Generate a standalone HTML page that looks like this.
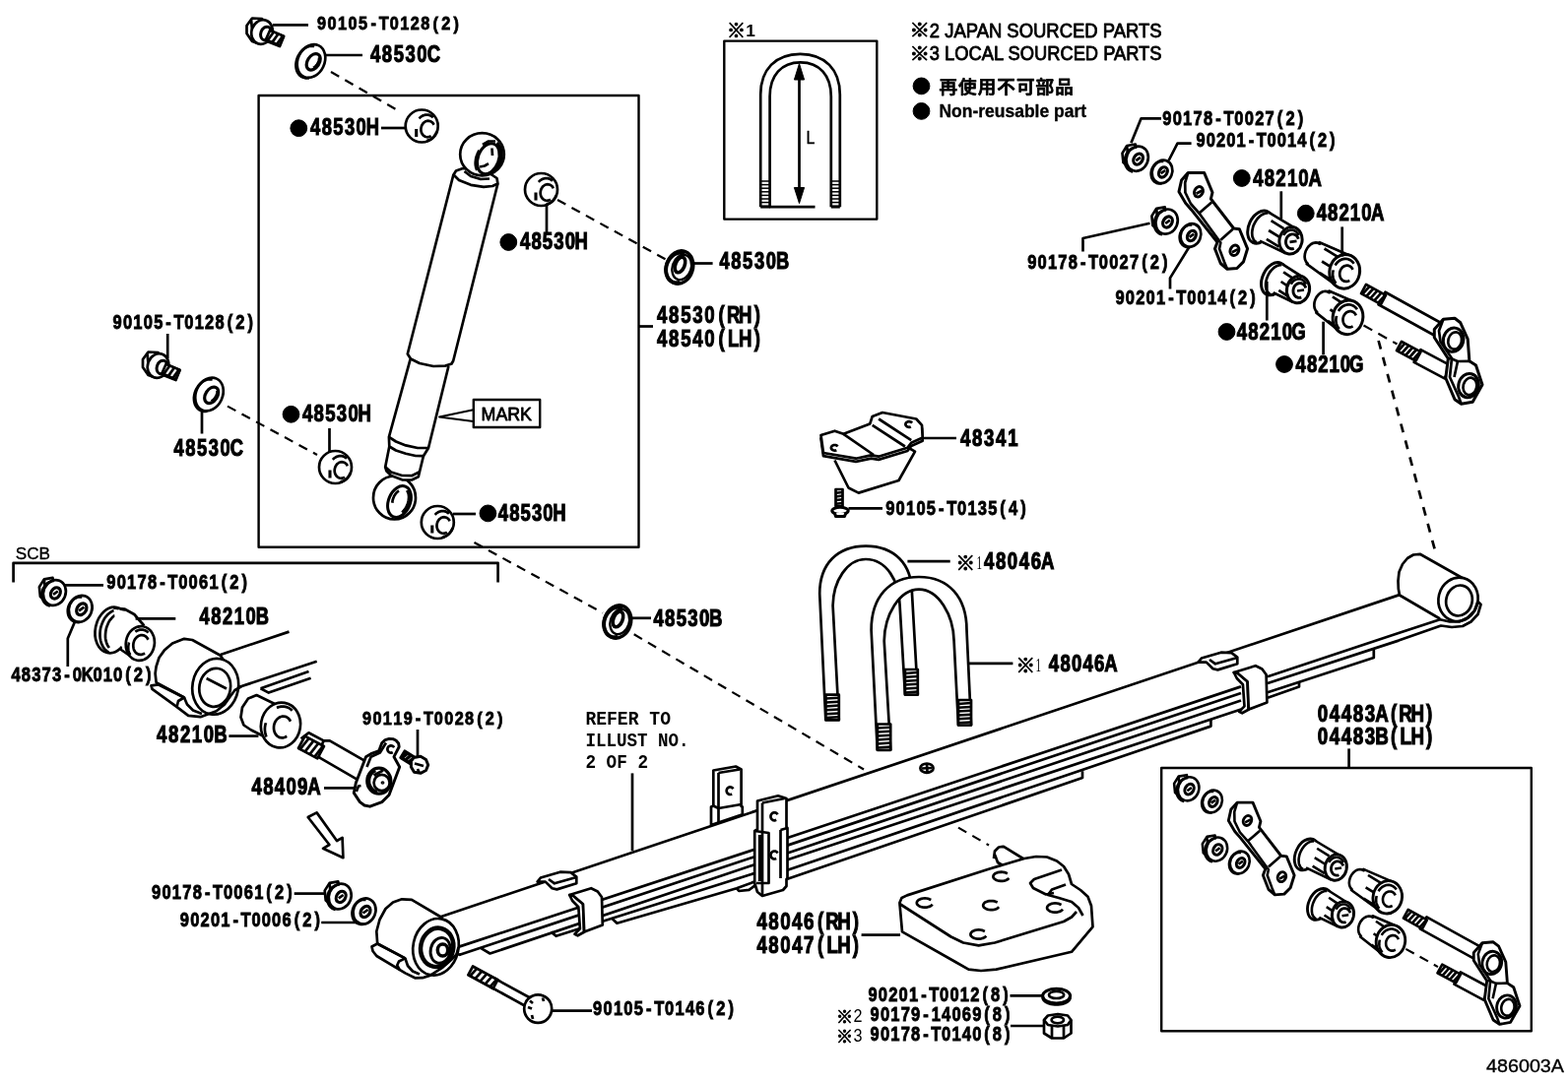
<!DOCTYPE html>
<html lang="en"><head><meta charset="utf-8"><title>486003A</title>
<style>
html,body{margin:0;padding:0;background:#fff}
body{width:1592px;height:1099px;overflow:hidden}
svg{display:block;will-change:transform}
svg g.d *{stroke:#000;stroke-linecap:butt;stroke-linejoin:round}
svg g.d text{stroke:none;fill:#000;white-space:pre}
svg g.d text.pn{font-family:"Liberation Sans",sans-serif;font-weight:bold;stroke:#000;stroke-width:1.1px;stroke-linejoin:miter}
svg g.d text.cd{font-family:"Liberation Sans",sans-serif;font-weight:bold;stroke:#000;stroke-width:0.85px;stroke-linejoin:miter}
svg g.d .sn{font-family:"Liberation Sans",sans-serif;font-weight:normal;stroke:none}
svg g.d .sr{font-family:"Liberation Serif",serif;font-weight:normal;stroke:none}
svg g.d text.ss{font-family:"Liberation Sans",sans-serif;stroke:#000;stroke-width:0.35px}
svg g.d .sb{font-family:"Liberation Sans",sans-serif;font-weight:bold;stroke:none}
.mo{font-family:"Liberation Mono",monospace;font-weight:bold}
svg g.d text.jp{font-family:"Liberation Sans","Noto Sans CJK JP",sans-serif;font-weight:500;stroke:#000;stroke-width:0.8px}
svg g.d text.km{font-family:"Liberation Sans","Noto Sans CJK JP",sans-serif;font-weight:bold;stroke:#000;stroke-width:0.9px}
svg g.d .sm{font-family:"Liberation Sans",sans-serif;font-weight:normal;stroke:#000;stroke-width:0.8px}
</style></head><body>
<svg width="1592" height="1099" viewBox="0 0 1592 1099" shape-rendering="geometricPrecision">
<rect x="0" y="0" width="1592" height="1099" fill="#fff" stroke="none"/>
<g class="d">
<polygon points="448.0,931.0 1420.0,604.4 1472.0,630.4 465.0,962.0" stroke-width="0.01" fill="#fff" />
<line x1="448.0" y1="931.0" x2="1421.0" y2="604.1" stroke-width="2.7" />
<polyline points="1462.0,628.5 1421.0,604.5 1419.8,598.0 1419.5,590.0 1420.5,581.0 1424.0,573.0 1429.0,567.0 1435.0,563.5 1441.7,562.8 1485.5,587.5" stroke-width="2.7" fill="#fff" />
<ellipse cx="1480.5" cy="608.8" rx="20.0" ry="22.3" stroke-width="2.7" fill="#fff" transform="rotate(14 1480.5 608.8)" />
<ellipse cx="1481.5" cy="610.0" rx="13.2" ry="15.6" stroke-width="2.7" fill="none" transform="rotate(14 1481.5 610.0)" />
<polyline points="1287.0,687.3 1420.0,643.0 1462.0,629.2 1472.0,631.5 1482.0,631.3 1490.0,627.5 1497.0,620.5 1500.5,611.0" stroke-width="2.7" fill="none" />
<polyline points="1287.0,694.0 1420.0,650.6 1463.0,635.5 1474.0,637.0 1485.0,636.0 1493.5,631.5 1500.5,624.0 1503.5,614.0 1500.5,611.0" stroke-width="2.7" fill="none" />
<line x1="799.5" y1="851.0" x2="1260.0" y2="697.4" stroke-width="2.7" />
<line x1="799.5" y1="858.6" x2="1260.0" y2="704.0" stroke-width="2.7" />
<line x1="799.5" y1="866.5" x2="1260.0" y2="711.5" stroke-width="2.7" />
<line x1="799.5" y1="873.3" x2="1260.0" y2="720.5" stroke-width="2.7" />
<polyline points="799.5,883.8 1229.4,737.6 1229.4,730.6" stroke-width="2.7" fill="none" />
<polyline points="799.5,892.8 1099.0,790.0 1099.0,783.3" stroke-width="2.7" fill="none" />
<polyline points="1287.0,703.3 1394.8,668.0 1394.8,660.0" stroke-width="2.7" fill="none" />
<polyline points="1287.0,708.7 1319.0,697.4 1319.0,693.0" stroke-width="2.7" fill="none" />
<line x1="465.2" y1="961.9" x2="766.8" y2="862.6" stroke-width="2.7" />
<line x1="466.0" y1="970.0" x2="766.8" y2="870.0" stroke-width="2.7" />
<polyline points="488.4,963.2 497.5,968.5 766.8,878.0" stroke-width="2.7" fill="none" />
<polyline points="559.6,946.6 564.6,950.8 766.8,886.7" stroke-width="2.7" fill="none" />
<polyline points="621.8,933.2 626.4,937.7 747.9,902.2 766.8,895.3" stroke-width="2.7" fill="none" />
<polyline points="747.9,902.2 750.2,905.0 760.5,903.9 768.5,898.0" stroke-width="2.7" fill="none" />
<polyline points="411.4,973.4 383.2,958.5 382.3,946.0 385.5,934.0 391.5,923.0 399.0,916.5 408.0,913.3 418.0,913.8 447.8,931.5 465.0,962.0 440.0,990.0" stroke-width="2.7" fill="#fff" />
<ellipse cx="442.5" cy="961.8" rx="23.0" ry="29.0" stroke-width="2.7" fill="#fff" transform="rotate(12 442.5 961.8)" />
<ellipse cx="443.7" cy="962.3" rx="16.5" ry="19.8" stroke-width="4.5" fill="none" transform="rotate(12 443.7 962.3)" />
<ellipse cx="447.2" cy="965.4" rx="10.0" ry="13.0" stroke-width="2.9000000000000004" fill="none" transform="rotate(12 447.2 965.4)" />
<ellipse cx="449.5" cy="965.0" rx="5.2" ry="6.0" stroke-width="3.5" fill="none" />
<polyline points="383.2,958.5 377.5,961.5 378.5,966.0 382.4,971.0 411.4,988.4 421.3,993.3 429.0,993.2 437.0,990.6 449.5,982.6 458.0,975.0 463.5,969.5 468.0,969.5" stroke-width="2.7" fill="none" />
<polyline points="383.2,958.5 411.4,973.4 405.0,976.5 403.2,980.5 405.6,985.0" stroke-width="2.7" fill="none" />
<polyline points="411.4,973.4 414.0,981.0 419.0,986.5 426.0,989.5" stroke-width="2.7" fill="none" />
<polyline points="465.5,962.0 463.5,969.5" stroke-width="2.7" fill="none" />
<polygon points="545.6,895.6 548.9,891.5 568.7,885.7 579.5,886.2 585.3,890.6 585.3,897.3 565.4,903.4 560.5,902.2 553.8,895.6" stroke-width="2.7" fill="#fff" />
<polyline points="557.0,893.0 563.0,897.3 585.3,891.0" stroke-width="2.7" fill="none" />
<polygon points="1216.6,672.6 1219.9,668.5 1239.7,662.7 1250.5,663.2 1256.3,667.6 1256.3,674.3 1236.4,680.4 1231.5,679.2 1224.8,672.6" stroke-width="2.7" fill="#fff" />
<polyline points="1228.0,670.0 1234.0,674.3 1256.3,668.0" stroke-width="2.7" fill="none" />
<polygon points="578.2,909.0 581.2,915.0 587.3,921.2 588.9,943.4 583.5,948.7 586.6,950.3 593.0,946.8 592.0,918.2 582.0,909.8" stroke-width="2.7" fill="#fff" />
<polygon points="578.2,909.0 600.2,902.2 606.8,905.5 611.0,911.3 611.8,939.5 593.2,946.6 592.0,918.2 582.0,909.8" stroke-width="2.7" fill="#fff" />
<polygon points="1252.8,683.0 1255.8,689.0 1261.9,695.2 1263.5,717.4 1258.1,722.7 1261.2,724.3 1267.6,720.8 1266.6,692.2 1256.6,683.8" stroke-width="2.7" fill="#fff" />
<polygon points="1252.8,683.0 1274.8,676.2 1281.4,679.5 1285.6,685.3 1286.4,713.5 1267.8,720.6 1266.6,692.2 1256.6,683.8" stroke-width="2.7" fill="#fff" />
<polygon points="724.3,782.5 747.0,778.5 752.6,781.5 752.6,819.0 753.8,819.5 753.8,827.3 722.0,838.0 722.0,819.5 724.3,818.5" stroke-width="2.7" fill="#fff" />
<polyline points="729.5,785.0 751.0,781.5" stroke-width="2.7" fill="none" />
<polyline points="729.5,785.0 729.5,837.0" stroke-width="2.7" fill="none" />
<polyline points="724.3,818.5 729.5,821.0 752.6,817.0" stroke-width="2.7" fill="none" />
<polyline points="743.1,806.5 742.5,806.8 741.8,807.0 741.1,807.0 740.4,806.9 739.7,806.6 739.1,806.2 738.6,805.7 738.2,805.1 737.9,804.4 737.7,803.7 737.7,803.0 737.8,802.2 738.1,801.5 738.4,800.9 738.9,800.3 739.5,799.9 740.1,799.6 740.8,799.4 741.5,799.4 742.2,799.5 742.9,799.8 743.5,800.2 744.0,800.7 744.4,801.3" stroke-width="2.7" fill="none" />
<polygon points="769.0,813.5 790.0,808.3 798.5,811.0 798.5,840.0 799.5,841.0 799.5,892.0 798.5,893.0 798.5,900.0 795.0,904.0 774.0,910.0 769.0,906.0 766.2,897.0 766.2,844.0 769.0,842.5" stroke-width="2.7" fill="#fff" />
<polyline points="774.0,815.5 796.5,811.0" stroke-width="2.7" fill="none" />
<polyline points="774.0,815.5 774.0,909.5" stroke-width="2.7" fill="none" />
<polyline points="766.2,844.0 780.5,846.0 780.5,897.0 768.0,897.0" stroke-width="2.7" fill="none" />
<polyline points="771.5,848.0 771.5,895.0" stroke-width="3.3000000000000003" fill="none" />
<polyline points="792.5,843.0 792.5,892.0" stroke-width="2.7" fill="none" />
<polyline points="792.5,843.0 799.5,841.0" stroke-width="2.7" fill="none" />
<polyline points="788.2,832.8 787.5,833.1 786.8,833.3 786.1,833.3 785.3,833.2 784.6,832.9 784.0,832.5 783.4,831.9 783.0,831.3 782.7,830.6 782.5,829.8 782.5,829.0 782.6,828.3 782.9,827.5 783.3,826.9 783.8,826.3 784.4,825.8 785.1,825.5 785.8,825.3 786.5,825.3 787.3,825.4 788.0,825.7 788.6,826.1 789.2,826.7 789.6,827.3" stroke-width="2.7" fill="none" />
<polyline points="788.2,872.0 787.5,872.3 786.8,872.5 786.1,872.5 785.3,872.4 784.6,872.1 784.0,871.7 783.4,871.1 783.0,870.5 782.7,869.8 782.5,869.0 782.5,868.2 782.6,867.5 782.9,866.7 783.3,866.1 783.8,865.5 784.4,865.0 785.1,864.7 785.8,864.5 786.5,864.5 787.3,864.6 788.0,864.9 788.6,865.3 789.2,865.9 789.6,866.5" stroke-width="2.7" fill="none" />
<ellipse cx="941.0" cy="780.2" rx="6.6" ry="4.6" stroke-width="2.7" fill="none" />
<line x1="936.0" y1="780.5" x2="946.0" y2="780.0" stroke-width="2.7" />
<line x1="941.0" y1="776.0" x2="941.5" y2="784.5" stroke-width="2.7" />
<path d="M772.2,210.2 L772.2,96.0 C772.2,70.5 787.5,54.8 812.5,54.8 C837.5,54.8 852.8,70.5 852.8,96.0 L852.8,210.2" stroke-width="2.7" fill="none" />
<path d="M781.6,210.2 L781.6,98.0 C781.6,76.5 793.4,63.4 812.7,63.4 C832.0,63.4 843.8,76.5 843.8,98.0 L843.8,210.2" stroke-width="2.7" fill="none" />
<line x1="772.2" y1="184.0" x2="781.6" y2="184.0" stroke-width="1.5" />
<line x1="772.2" y1="187.6" x2="781.6" y2="187.6" stroke-width="1.5" />
<line x1="772.2" y1="191.2" x2="781.6" y2="191.2" stroke-width="1.5" />
<line x1="772.2" y1="194.8" x2="781.6" y2="194.8" stroke-width="1.5" />
<line x1="772.2" y1="198.4" x2="781.6" y2="198.4" stroke-width="1.5" />
<line x1="772.2" y1="202.0" x2="781.6" y2="202.0" stroke-width="1.5" />
<line x1="772.2" y1="205.6" x2="781.6" y2="205.6" stroke-width="1.5" />
<line x1="772.2" y1="209.2" x2="781.6" y2="209.2" stroke-width="1.5" />
<line x1="772.2" y1="210.2" x2="781.6" y2="210.2" stroke-width="2.7" />
<line x1="843.8" y1="184.0" x2="852.8" y2="184.0" stroke-width="1.5" />
<line x1="843.8" y1="187.6" x2="852.8" y2="187.6" stroke-width="1.5" />
<line x1="843.8" y1="191.2" x2="852.8" y2="191.2" stroke-width="1.5" />
<line x1="843.8" y1="194.8" x2="852.8" y2="194.8" stroke-width="1.5" />
<line x1="843.8" y1="198.4" x2="852.8" y2="198.4" stroke-width="1.5" />
<line x1="843.8" y1="202.0" x2="852.8" y2="202.0" stroke-width="1.5" />
<line x1="843.8" y1="205.6" x2="852.8" y2="205.6" stroke-width="1.5" />
<line x1="843.8" y1="209.2" x2="852.8" y2="209.2" stroke-width="1.5" />
<line x1="843.8" y1="210.2" x2="852.8" y2="210.2" stroke-width="2.7" />
<line x1="781.0" y1="210.2" x2="827.5" y2="210.2" stroke-width="2.7" />
<line x1="811.5" y1="70.0" x2="811.5" y2="200.0" stroke-width="2.7" />
<polygon points="811.5,64.6 816.6,81.0 806.4,81.0" stroke-width="1" fill="#000" />
<polygon points="811.5,206.6 816.6,190.5 806.4,190.5" stroke-width="1" fill="#000" />
<path d="M838.3,731.0 L832.2,603.0 C832.2,573.0 850.0,554.6 879.1,554.6 C908.2,554.6 926.0,573.0 926.0,603.0 L931.8,705.0 L918.9,705 L913.6,615 C913,590 900,568 879,568 C860,568 846,590 845.6,615 L851.8,731 Z" fill="#fff" stroke-width="2.7"/>
<rect x="838.4" y="705.7" width="13.4" height="25.7" fill="#fff" stroke-width="2.7"/>
<line x1="838.4" y1="709.6" x2="851.8" y2="708.8" stroke-width="2.5" />
<line x1="838.4" y1="713.5" x2="851.8" y2="712.7" stroke-width="2.5" />
<line x1="838.4" y1="717.4" x2="851.8" y2="716.6" stroke-width="2.5" />
<line x1="838.4" y1="721.3" x2="851.8" y2="720.5" stroke-width="2.5" />
<line x1="838.4" y1="725.2" x2="851.8" y2="724.4" stroke-width="2.5" />
<line x1="838.4" y1="729.1" x2="851.8" y2="728.3" stroke-width="2.5" />
<rect x="918.9" y="680.0" width="12.9" height="25.7" fill="#fff" stroke-width="2.7"/>
<line x1="918.9" y1="683.9" x2="931.8" y2="683.1" stroke-width="2.5" />
<line x1="918.9" y1="687.8" x2="931.8" y2="687.0" stroke-width="2.5" />
<line x1="918.9" y1="691.7" x2="931.8" y2="690.9" stroke-width="2.5" />
<line x1="918.9" y1="695.6" x2="931.8" y2="694.8" stroke-width="2.5" />
<line x1="918.9" y1="699.5" x2="931.8" y2="698.7" stroke-width="2.5" />
<line x1="918.9" y1="703.4" x2="931.8" y2="702.6" stroke-width="2.5" />
<path d="M890.8,761.5 L884.6,640.0 C884.6,606.5 903.0,586.0 933.0,586.0 C963.1,586.0 981.5,606.5 981.5,640.0 L986.0,736.3 L973,736.3 L968.6,651 C968,625 953,598.7 933,598.7 C913,598.7 898,625 897.7,651 L904.2,761.5 Z" fill="#fff" stroke-width="2.7"/>
<rect x="890.8" y="735.5" width="13.4" height="26.3" fill="#fff" stroke-width="2.7"/>
<line x1="890.8" y1="739.5" x2="904.2" y2="738.7" stroke-width="2.5" />
<line x1="890.8" y1="743.5" x2="904.2" y2="742.7" stroke-width="2.5" />
<line x1="890.8" y1="747.5" x2="904.2" y2="746.7" stroke-width="2.5" />
<line x1="890.8" y1="751.4" x2="904.2" y2="750.6" stroke-width="2.5" />
<line x1="890.8" y1="755.4" x2="904.2" y2="754.6" stroke-width="2.5" />
<line x1="890.8" y1="759.4" x2="904.2" y2="758.6" stroke-width="2.5" />
<rect x="973.0" y="711.0" width="13.0" height="25.5" fill="#fff" stroke-width="2.7"/>
<line x1="973.0" y1="714.9" x2="986.0" y2="714.1" stroke-width="2.5" />
<line x1="973.0" y1="718.7" x2="986.0" y2="717.9" stroke-width="2.5" />
<line x1="973.0" y1="722.6" x2="986.0" y2="721.8" stroke-width="2.5" />
<line x1="973.0" y1="726.5" x2="986.0" y2="725.7" stroke-width="2.5" />
<line x1="973.0" y1="730.3" x2="986.0" y2="729.5" stroke-width="2.5" />
<line x1="973.0" y1="734.2" x2="986.0" y2="733.4" stroke-width="2.5" />
<polyline points="847.5,467.5 861.5,495.5 871.7,500.6 912.5,488.0 929.0,458.6 921.0,454.0" stroke-width="2.7" fill="#fff" />
<polygon points="833.5,445.2 847.5,440.9 856.4,444.0 883.2,433.8 885.7,426.2 896.0,422.2 930.3,428.7 936.0,435.0 936.7,447.8 925.2,452.9 921.4,458.0 892.0,466.9 884.5,465.6 869.0,468.9 836.0,463.2" stroke-width="2.7" fill="#fff" />
<polygon points="833.5,442.0 847.5,437.7 856.4,440.8 883.2,430.6 885.7,423.0 896.0,419.0 930.3,425.5 936.0,431.8 936.7,444.6 925.2,449.7 921.4,454.8 892.0,463.7 884.5,462.4 869.0,465.7 836.0,460.0" stroke-width="2.7" fill="#fff" />
<polyline points="856.4,440.8 887.0,462.0" stroke-width="2.7" fill="none" />
<polyline points="885.7,431.8 918.9,453.5" stroke-width="2.7" fill="none" />
<polyline points="892.1,425.5 925.2,447.1" stroke-width="2.7" fill="none" />
<polyline points="849.3,457.2 848.7,457.5 848.0,457.6 847.3,457.6 846.6,457.5 845.9,457.3 845.3,457.0 844.8,456.6 844.4,456.2 844.1,455.7 843.9,455.2 843.9,454.6 844.0,454.1 844.3,453.6 844.6,453.1 845.1,452.7 845.7,452.4 846.3,452.1 847.0,452.0 847.7,452.0 848.4,452.1 849.1,452.3 849.7,452.6 850.2,453.0 850.6,453.4" stroke-width="2.7" fill="none" />
<polyline points="924.8,433.4 924.2,433.7 923.5,433.8 922.8,433.8 922.1,433.7 921.4,433.5 920.8,433.2 920.3,432.8 919.9,432.4 919.6,431.9 919.4,431.4 919.4,430.8 919.5,430.3 919.8,429.8 920.1,429.3 920.6,428.9 921.2,428.6 921.8,428.3 922.5,428.2 923.2,428.2 923.9,428.3 924.6,428.5 925.2,428.8 925.7,429.2 926.1,429.6" stroke-width="2.7" fill="none" />
<rect x="848.5" y="497.0" width="7.0" height="17.0" fill="#fff" stroke-width="2.7"/>
<line x1="848.5" y1="500.7" x2="855.5" y2="499.9" stroke-width="2.5" />
<line x1="848.5" y1="504.4" x2="855.5" y2="503.6" stroke-width="2.5" />
<line x1="848.5" y1="508.1" x2="855.5" y2="507.3" stroke-width="2.5" />
<line x1="848.5" y1="511.8" x2="855.5" y2="511.0" stroke-width="2.5" />
<ellipse cx="853.0" cy="518.8" rx="8.2" ry="3.6" stroke-width="3.0" fill="#fff" />
<polyline points="847.5,521.0 848.5,524.5 857.5,524.5 858.8,521.0" stroke-width="3.0" fill="#fff" />
<polyline points="1009.0,872.0 1010.0,864.5 1014.0,860.5 1019.0,859.8 1039.5,872.5 1030.0,880.0" stroke-width="2.7" fill="#fff" />
<polyline points="1010.0,868.0 1013.0,876.0 1020.0,880.0" stroke-width="2.7" fill="none" />
<polygon points="913.4,917.0 915.5,912.0 921.0,909.4 1003.8,882.7 1040.0,872.0 1052.0,870.0 1063.0,870.5 1073.0,874.5 1080.0,880.0 1085.0,888.0 1088.0,898.0 1097.0,904.0 1104.5,910.7 1108.0,920.0 1109.5,941.3 1088.0,966.8 1011.5,984.6 996.0,986.0 983.4,984.6 970.0,977.0 916.0,946.4" stroke-width="2.7" fill="#fff" />
<polyline points="913.4,918.0 965.6,951.5 978.0,957.5 993.6,960.4 1010.0,957.5 1080.0,936.0 1088.0,931.5 1093.0,926.0" stroke-width="2.7" fill="none" />
<polyline points="1078.0,883.5 1050.0,893.0 1046.0,897.0 1049.0,902.0 1062.0,908.5 1070.0,907.0" stroke-width="2.7" fill="none" />
<polyline points="1082.0,898.5 1068.0,903.5 1064.0,909.0 1075.0,912.0 1088.0,916.0 1095.0,922.0 1099.5,930.0" stroke-width="2.7" fill="none" />
<polyline points="946.7,918.6 945.9,919.5 944.8,920.3 943.4,920.9 941.8,921.3 940.1,921.6 938.3,921.6 936.5,921.4 934.9,921.0 933.5,920.4 932.3,919.6 931.4,918.8 930.9,917.8 930.8,916.8 931.1,915.8 931.7,914.9 932.7,914.0 934.0,913.4 935.5,912.8 937.2,912.5 939.0,912.4 940.8,912.5 942.5,912.8 944.0,913.4 945.3,914.0" stroke-width="2.7" fill="none" />
<polyline points="1014.1,921.2 1013.3,922.1 1012.2,922.9 1010.8,923.5 1009.2,923.9 1007.5,924.2 1005.7,924.2 1003.9,924.0 1002.3,923.6 1000.9,923.0 999.7,922.2 998.8,921.4 998.3,920.4 998.2,919.4 998.5,918.4 999.1,917.5 1000.1,916.6 1001.4,916.0 1002.9,915.4 1004.6,915.1 1006.4,915.0 1008.2,915.1 1009.9,915.4 1011.4,916.0 1012.7,916.6" stroke-width="2.7" fill="none" />
<polyline points="1024.3,891.9 1023.5,892.8 1022.4,893.6 1021.0,894.2 1019.4,894.6 1017.7,894.9 1015.9,894.9 1014.1,894.7 1012.5,894.3 1011.1,893.7 1009.9,892.9 1009.0,892.1 1008.5,891.1 1008.4,890.1 1008.7,889.1 1009.3,888.2 1010.3,887.3 1011.6,886.7 1013.1,886.1 1014.8,885.8 1016.6,885.7 1018.4,885.8 1020.1,886.1 1021.6,886.7 1022.9,887.3" stroke-width="2.7" fill="none" />
<polyline points="1079.0,923.6 1078.2,924.5 1077.1,925.3 1075.7,925.9 1074.1,926.3 1072.4,926.6 1070.6,926.6 1068.8,926.4 1067.2,926.0 1065.8,925.4 1064.6,924.6 1063.7,923.8 1063.2,922.8 1063.1,921.8 1063.4,920.8 1064.0,919.9 1065.0,919.0 1066.3,918.4 1067.8,917.8 1069.5,917.5 1071.3,917.4 1073.1,917.5 1074.8,917.8 1076.3,918.4 1077.6,919.0" stroke-width="2.7" fill="none" />
<polyline points="1001.3,950.6 1000.5,951.5 999.4,952.3 998.0,952.9 996.4,953.3 994.7,953.6 992.9,953.6 991.1,953.4 989.5,953.0 988.1,952.4 986.9,951.6 986.0,950.8 985.5,949.8 985.4,948.8 985.7,947.8 986.3,946.9 987.3,946.0 988.6,945.4 990.1,944.8 991.8,944.5 993.6,944.4 995.4,944.5 997.1,944.8 998.6,945.4 999.9,946.0" stroke-width="2.7" fill="none" />
<ellipse cx="1072.6" cy="1011.6" rx="14.0" ry="7.4" stroke-width="3.1" fill="#fff" />
<polyline points="1086.6,1013.2 1086.5,1014.1 1086.1,1015.1 1085.5,1016.0 1084.7,1016.8 1083.7,1017.6 1082.5,1018.3 1081.1,1018.9 1079.6,1019.4 1078.0,1019.9 1076.2,1020.2 1074.4,1020.3 1072.6,1020.4 1070.8,1020.3 1069.0,1020.2 1067.2,1019.9 1065.6,1019.4 1064.1,1018.9 1062.7,1018.3 1061.5,1017.6 1060.5,1016.8 1059.7,1016.0 1059.1,1015.1 1058.7,1014.1 1058.6,1013.2" stroke-width="2.7" fill="none" />
<ellipse cx="1072.6" cy="1010.4" rx="7.6" ry="3.6" stroke-width="2.7" fill="none" />
<polyline points="1060.0,1036.0 1060.0,1049.5 1068.0,1054.5 1080.0,1054.5 1087.5,1049.5 1087.5,1036.0" stroke-width="2.7" fill="#fff" />
<polygon points="1060.0,1036.0 1064.0,1031.5 1074.0,1030.0 1084.0,1031.5 1087.5,1036.0 1084.0,1041.0 1074.0,1042.5 1064.0,1041.0" stroke-width="2.7" fill="#fff" />
<ellipse cx="1073.8" cy="1036.0" rx="6.2" ry="3.4" stroke-width="2.7" fill="none" />
<line x1="1068.0" y1="1041.5" x2="1068.0" y2="1054.5" stroke-width="2.7" />
<line x1="1080.0" y1="1041.5" x2="1080.0" y2="1054.5" stroke-width="2.7" />
<polygon points="1139.5,155.6 1144.2,148.0 1152.8,146.5 1156.6,169.8 1148.0,171.7 1140.5,165.1" stroke-width="2.7" fill="#fff" />
<line x1="1144.2" y1="148.0" x2="1146.1" y2="168.9" stroke-width="2.7" />
<ellipse cx="1154.7" cy="161.2" rx="10.9" ry="12.8" stroke-width="2.7" fill="#fff" transform="rotate(22 1154.7 161.2)" />
<polyline points="1150.2,174.4 1148.9,174.1 1147.7,173.6 1146.5,172.9 1145.4,172.0 1144.5,171.0 1143.7,169.8 1143.0,168.6 1142.5,167.2 1142.2,165.7 1142.0,164.2 1142.0,162.7 1142.2,161.1 1142.5,159.6 1143.0,158.1 1143.6,156.6 1144.4,155.3 1145.4,154.0 1146.4,152.9 1147.6,151.9 1148.8,151.0 1150.1,150.4 1151.5,149.9 1152.8,149.6 1154.2,149.4" stroke-width="2.7" fill="none" />
<ellipse cx="1155.6" cy="161.6" rx="4.4" ry="5.9" stroke-width="3.2" fill="none" transform="rotate(32 1155.6 161.6)" />
<line x1="1153.3" y1="163.2" x2="1158.0" y2="159.8" stroke-width="2.7" />
<ellipse cx="1180.0" cy="174.4" rx="10.1" ry="12.0" stroke-width="2.7" fill="#fff" transform="rotate(22 1180.0 174.4)" />
<polyline points="1179.5,186.3 1178.0,186.5 1176.6,186.4 1175.2,186.2 1173.9,185.7 1172.6,184.9 1171.5,184.0 1170.6,182.9 1169.8,181.6 1169.2,180.2 1168.9,178.6 1168.7,177.0 1168.7,175.4 1169.0,173.7 1169.4,172.1 1170.1,170.6 1170.9,169.1 1171.9,167.8 1173.1,166.6 1174.3,165.6 1175.7,164.8 1177.1,164.2 1178.5,163.9 1180.0,163.8 1181.4,163.9" stroke-width="2.7" fill="none" />
<ellipse cx="1180.9" cy="174.9" rx="4.0" ry="5.5" stroke-width="3.2" fill="none" transform="rotate(32 1180.9 174.9)" />
<line x1="1178.6" y1="176.2" x2="1183.2" y2="173.0" stroke-width="2.7" />
<polygon points="1169.4,219.4 1174.2,211.8 1182.7,210.4 1186.5,233.7 1178.0,235.6 1170.4,228.9" stroke-width="2.7" fill="#fff" />
<line x1="1174.2" y1="211.8" x2="1176.0" y2="232.8" stroke-width="2.7" />
<ellipse cx="1184.6" cy="225.1" rx="10.9" ry="12.8" stroke-width="2.7" fill="#fff" transform="rotate(22 1184.6 225.1)" />
<polyline points="1180.1,238.3 1178.8,238.0 1177.6,237.5 1176.4,236.8 1175.3,235.9 1174.4,234.9 1173.6,233.7 1172.9,232.5 1172.4,231.1 1172.1,229.6 1171.9,228.1 1171.9,226.6 1172.1,225.0 1172.4,223.5 1172.9,222.0 1173.5,220.5 1174.3,219.2 1175.3,217.9 1176.3,216.8 1177.5,215.8 1178.7,214.9 1180.0,214.3 1181.4,213.8 1182.7,213.5 1184.1,213.3" stroke-width="2.7" fill="none" />
<ellipse cx="1185.5" cy="225.5" rx="4.4" ry="5.9" stroke-width="3.2" fill="none" transform="rotate(32 1185.5 225.5)" />
<line x1="1183.2" y1="227.0" x2="1187.9" y2="223.7" stroke-width="2.7" />
<ellipse cx="1209.0" cy="239.0" rx="10.1" ry="12.0" stroke-width="2.7" fill="#fff" transform="rotate(22 1209.0 239.0)" />
<polyline points="1208.5,250.9 1207.0,251.1 1205.6,251.0 1204.2,250.8 1202.9,250.3 1201.6,249.5 1200.5,248.6 1199.6,247.5 1198.8,246.2 1198.2,244.8 1197.9,243.2 1197.7,241.6 1197.7,240.0 1198.0,238.3 1198.4,236.7 1199.1,235.2 1199.9,233.7 1200.9,232.4 1202.1,231.2 1203.3,230.2 1204.7,229.4 1206.1,228.8 1207.5,228.5 1209.0,228.4 1210.4,228.5" stroke-width="2.7" fill="none" />
<ellipse cx="1209.9" cy="239.5" rx="4.0" ry="5.5" stroke-width="3.2" fill="none" transform="rotate(32 1209.9 239.5)" />
<line x1="1207.6" y1="240.8" x2="1212.2" y2="237.6" stroke-width="2.7" />
<polygon points="1197.0,194.7 1199.6,183.0 1206.2,175.6 1222.7,175.6 1231.0,195.5 1229.4,202.0 1252.6,232.0 1258.4,232.7 1266.6,252.6 1262.5,265.9 1255.9,272.5 1246.0,273.3 1239.3,267.5 1233.5,252.6 1236.0,246.0 1209.5,212.9 1203.7,206.2" stroke-width="3.0" fill="#fff" />
<polyline points="1206.2,175.6 1203.2,185.5 1203.4,195.5 1209.0,207.0 1217.8,217.0 1239.3,246.5 1238.0,252.6 1243.0,266.0 1246.0,273.3" stroke-width="2.7" fill="none" />
<line x1="1217.8" y1="216.2" x2="1230.2" y2="205.4" stroke-width="2.7" />
<line x1="1239.3" y1="243.8" x2="1251.7" y2="232.7" stroke-width="2.7" />
<ellipse cx="1217.0" cy="194.7" rx="4.2" ry="5.4" stroke-width="3.0" fill="none" transform="rotate(25 1217.0 194.7)" />
<line x1="1214.5" y1="196.7" x2="1220.5" y2="193.5" stroke-width="2.7" />
<ellipse cx="1253.4" cy="254.3" rx="4.2" ry="5.4" stroke-width="3.0" fill="none" transform="rotate(25 1253.4 254.3)" />
<line x1="1250.9" y1="256.3" x2="1256.9" y2="253.1" stroke-width="2.7" />
<ellipse cx="1279.5" cy="230.6" rx="11.5" ry="17.5" stroke-width="3.0" fill="#fff" transform="rotate(25 1279.5 230.6)" />
<polyline points="1275.8,246.1 1274.6,245.4 1273.5,244.4 1272.7,243.1 1272.0,241.7 1271.5,240.1 1271.3,238.3 1271.2,236.3 1271.4,234.3 1271.8,232.2 1272.3,230.1 1273.1,228.1 1274.1,226.1 1275.2,224.2 1276.4,222.5 1277.8,220.9 1279.3,219.5 1280.8,218.4 1282.4,217.5 1283.9,216.9 1285.5,216.5 1286.9,216.5 1288.3,216.7 1289.6,217.2 1290.7,218.0" stroke-width="2.7" fill="none" />
<polygon points="1288.0,215.6 1316.0,232.3 1305.5,257.3 1279.0,244.6" stroke-width="0.01" fill="#fff" />
<polyline points="1288.0,215.6 1316.0,232.3" stroke-width="2.7" fill="none" />
<polyline points="1279.0,244.6 1305.5,257.3" stroke-width="2.7" fill="none" />
<polyline points="1290.6,224.2 1303.4,232.1" stroke-width="2.7" fill="none" />
<polyline points="1288.1,234.0 1300.9,241.9" stroke-width="2.7" fill="none" />
<polyline points="1285.9,242.8 1298.6,250.7" stroke-width="2.7" fill="none" />
<ellipse cx="1310.5" cy="244.3" rx="11.5" ry="13.8" stroke-width="3.0" fill="#fff" transform="rotate(12 1310.5 244.3)" />
<polyline points="1313.8,252.3 1312.6,252.7 1311.3,252.7 1310.0,252.5 1308.8,252.0 1307.8,251.3 1306.9,250.3 1306.2,249.1 1305.7,247.8 1305.5,246.4 1305.5,244.9 1305.8,243.5 1306.3,242.1 1307.0,240.8 1307.9,239.8 1309.0,238.9 1310.2,238.3 1311.4,237.9 1312.7,237.9 1314.0,238.1 1315.2,238.6 1316.2,239.3 1317.1,240.3 1317.8,241.5 1318.3,242.8" stroke-width="2.9000000000000004" fill="none" />
<line x1="1309.5" y1="245.8" x2="1316.5" y2="244.8" stroke-width="2.7" />
<polyline points="1303.2,239.0 1303.6,238.2 1304.2,237.4 1304.7,236.7 1305.3,236.1 1306.0,235.5 1306.7,235.0 1307.4,234.6 1308.1,234.2 1308.9,234.0 1309.7,233.7 1310.4,233.6 1311.2,233.6 1312.0,233.6 1312.7,233.7 1313.5,233.9 1314.2,234.2 1314.9,234.6 1315.6,235.0 1316.2,235.5 1316.7,236.1 1317.3,236.7 1317.8,237.4 1318.2,238.1 1318.5,238.9" stroke-width="2.7" fill="none" />
<polyline points="1369.2,259.0 1339.8,246.2 1340.4,248.2 1339.5,247.3 1338.5,246.6 1337.3,246.0 1336.1,245.7 1334.9,245.6 1333.5,245.7 1332.2,246.1 1330.9,246.6 1329.6,247.4 1328.4,248.3 1327.3,249.4 1326.2,250.7 1325.3,252.0 1324.6,253.5 1324.0,255.0 1323.5,256.6 1323.3,258.2 1323.2,259.8 1323.3,261.3 1323.6,262.7 1324.1,264.1 1324.7,265.3 1325.5,266.3 1326.4,267.2" stroke-width="0.01" fill="none" />
<polyline points="1369.2,259.0 1339.8,246.2 1340.1,247.7 1338.1,246.7 1335.9,246.4 1333.5,246.8 1331.1,248.0 1328.9,249.9 1327.1,252.3 1325.7,255.0 1324.9,257.9 1324.6,260.8 1325.0,263.5 1326.0,265.8 1327.6,267.6 1326.8,268.2 1358.2,291.0" stroke-width="2.7" fill="#fff" />
<polyline points="1344.6,252.5 1357.8,260.6" stroke-width="2.7" fill="none" />
<polyline points="1342.1,265.5 1355.3,273.6" stroke-width="2.7" fill="none" />
<polyline points="1339.9,277.2 1353.1,285.3" stroke-width="2.7" fill="none" />
<ellipse cx="1365.2" cy="275.8" rx="15.3" ry="17.4" stroke-width="3.0" fill="#fff" transform="rotate(12 1365.2 275.8)" />
<polyline points="1370.3,284.9 1369.0,285.5 1367.6,285.9 1366.3,285.9 1364.9,285.7 1363.6,285.1 1362.5,284.2 1361.6,283.1 1360.9,281.8 1360.4,280.4 1360.2,278.8 1360.2,277.2 1360.5,275.7 1361.1,274.2 1361.9,272.8 1362.9,271.6 1364.1,270.7 1365.4,270.1 1366.8,269.7 1368.1,269.7 1369.5,269.9 1370.8,270.5 1371.9,271.4 1372.8,272.5 1373.5,273.8" stroke-width="2.7" fill="none" />
<polyline points="1355.6,269.5 1356.1,268.6 1356.7,267.8 1357.4,267.0 1358.1,266.2 1358.9,265.6 1359.7,264.9 1360.5,264.4 1361.4,264.0 1362.3,263.6 1363.2,263.3 1364.1,263.1 1365.0,262.9 1365.9,262.9 1366.8,262.9 1367.8,263.0 1368.7,263.3 1369.5,263.6 1370.4,263.9 1371.2,264.4 1372.0,264.9 1372.7,265.5 1373.4,266.2 1374.0,266.9 1374.6,267.7" stroke-width="2.7" fill="none" />
<polyline points="1356.5,287.7 1356.1,287.3 1355.8,286.8 1355.4,286.4 1355.1,285.9 1354.8,285.4 1354.6,284.9 1354.3,284.4 1354.1,283.9 1353.9,283.3 1353.7,282.8 1353.5,282.2 1353.4,281.6 1353.3,281.1 1353.2,280.5 1353.2,279.9 1353.1,279.3 1353.1,278.6 1353.1,278.0 1353.2,277.4 1353.2,276.8 1353.3,276.2 1353.4,275.6 1353.6,275.0 1353.7,274.4" stroke-width="2.7" fill="none" />
<ellipse cx="1293.3" cy="283.2" rx="11.5" ry="17.5" stroke-width="3.0" fill="#fff" transform="rotate(25 1293.3 283.2)" />
<polyline points="1289.6,298.8 1288.4,298.0 1287.4,297.0 1286.5,295.8 1285.8,294.4 1285.4,292.7 1285.1,290.9 1285.1,289.0 1285.2,287.0 1285.6,284.9 1286.2,282.8 1287.0,280.8 1287.9,278.8 1289.0,276.9 1290.3,275.1 1291.7,273.6 1293.1,272.2 1294.6,271.1 1296.2,270.2 1297.8,269.6 1299.3,269.2 1300.8,269.2 1302.2,269.4 1303.4,269.9 1304.6,270.7" stroke-width="2.7" fill="none" />
<polygon points="1301.8,268.2 1323.5,282.0 1313.0,307.0 1292.8,297.2" stroke-width="0.01" fill="#fff" />
<polyline points="1301.8,268.2 1323.5,282.0" stroke-width="2.7" fill="none" />
<polyline points="1292.8,297.2 1313.0,307.0" stroke-width="2.7" fill="none" />
<polyline points="1303.1,276.3 1312.6,282.6" stroke-width="2.7" fill="none" />
<polyline points="1300.6,286.0 1310.1,292.4" stroke-width="2.7" fill="none" />
<polyline points="1298.3,294.8 1307.9,301.2" stroke-width="2.7" fill="none" />
<ellipse cx="1318.0" cy="294.0" rx="11.5" ry="13.8" stroke-width="3.0" fill="#fff" transform="rotate(12 1318.0 294.0)" />
<polyline points="1321.3,302.0 1320.1,302.4 1318.8,302.4 1317.5,302.2 1316.3,301.7 1315.3,301.0 1314.4,300.0 1313.7,298.8 1313.2,297.5 1313.0,296.1 1313.0,294.6 1313.3,293.2 1313.8,291.8 1314.5,290.5 1315.4,289.5 1316.5,288.6 1317.7,288.0 1318.9,287.6 1320.2,287.6 1321.5,287.8 1322.7,288.3 1323.7,289.0 1324.6,290.0 1325.3,291.2 1325.8,292.5" stroke-width="2.9000000000000004" fill="none" />
<line x1="1317.0" y1="295.5" x2="1324.0" y2="294.5" stroke-width="2.7" />
<polyline points="1310.7,288.7 1311.1,287.9 1311.7,287.1 1312.2,286.4 1312.8,285.8 1313.5,285.2 1314.2,284.7 1314.9,284.3 1315.6,283.9 1316.4,283.7 1317.2,283.4 1317.9,283.3 1318.7,283.3 1319.5,283.3 1320.2,283.4 1321.0,283.6 1321.7,283.9 1322.4,284.3 1323.1,284.7 1323.7,285.2 1324.2,285.8 1324.8,286.4 1325.3,287.1 1325.7,287.8 1326.0,288.6" stroke-width="2.7" fill="none" />
<polyline points="1372.5,305.5 1349.4,295.6 1350.0,297.7 1349.1,296.8 1348.1,296.1 1347.0,295.5 1345.8,295.2 1344.5,295.1 1343.2,295.2 1341.9,295.6 1340.5,296.1 1339.3,296.9 1338.0,297.8 1336.9,298.9 1335.9,300.1 1335.0,301.5 1334.2,303.0 1333.6,304.5 1333.2,306.1 1332.9,307.7 1332.8,309.3 1332.9,310.8 1333.2,312.2 1333.7,313.6 1334.3,314.8 1335.1,315.8 1336.0,316.7" stroke-width="0.01" fill="none" />
<polyline points="1372.5,305.5 1349.4,295.6 1349.7,297.2 1347.7,296.2 1345.5,295.8 1343.1,296.3 1340.7,297.5 1338.6,299.3 1336.7,301.7 1335.3,304.5 1334.5,307.4 1334.3,310.3 1334.7,313.0 1335.7,315.3 1337.2,317.0 1336.4,317.6 1361.5,337.5" stroke-width="2.7" fill="#fff" />
<polyline points="1352.9,301.3 1362.9,307.9" stroke-width="2.7" fill="none" />
<polyline points="1350.4,314.3 1360.4,320.9" stroke-width="2.7" fill="none" />
<polyline points="1348.1,326.0 1358.1,332.6" stroke-width="2.7" fill="none" />
<ellipse cx="1368.5" cy="322.3" rx="15.3" ry="17.4" stroke-width="3.0" fill="#fff" transform="rotate(12 1368.5 322.3)" />
<polyline points="1373.6,331.4 1372.3,332.0 1370.9,332.4 1369.6,332.4 1368.2,332.2 1366.9,331.6 1365.8,330.7 1364.9,329.6 1364.2,328.3 1363.7,326.9 1363.5,325.3 1363.5,323.7 1363.8,322.2 1364.4,320.7 1365.2,319.3 1366.2,318.1 1367.4,317.2 1368.7,316.6 1370.1,316.2 1371.4,316.2 1372.8,316.4 1374.1,317.0 1375.2,317.9 1376.1,319.0 1376.8,320.3" stroke-width="2.7" fill="none" />
<polyline points="1358.9,316.0 1359.4,315.1 1360.0,314.3 1360.7,313.5 1361.4,312.7 1362.2,312.1 1363.0,311.4 1363.8,310.9 1364.7,310.5 1365.6,310.1 1366.5,309.8 1367.4,309.6 1368.3,309.4 1369.2,309.4 1370.1,309.4 1371.1,309.5 1372.0,309.8 1372.8,310.1 1373.7,310.4 1374.5,310.9 1375.3,311.4 1376.0,312.0 1376.7,312.7 1377.3,313.4 1377.9,314.2" stroke-width="2.7" fill="none" />
<polyline points="1359.8,334.2 1359.4,333.8 1359.1,333.3 1358.7,332.9 1358.4,332.4 1358.1,331.9 1357.9,331.4 1357.6,330.9 1357.4,330.4 1357.2,329.8 1357.0,329.3 1356.8,328.7 1356.7,328.1 1356.6,327.6 1356.5,327.0 1356.5,326.4 1356.4,325.8 1356.4,325.1 1356.4,324.5 1356.5,323.9 1356.5,323.3 1356.6,322.7 1356.7,322.1 1356.9,321.5 1357.0,320.9" stroke-width="2.7" fill="none" />
<line x1="1384.5" y1="330.5" x2="1418.5" y2="349.5" stroke-width="2.2" stroke-dasharray="10 7"/>
<polygon points="1399.5,309.3 1456.5,340.8 1463.5,328.2 1406.5,296.7" stroke-width="2.7" fill="#fff" />
<polygon points="1382.0,298.1 1402.0,309.1 1407.0,299.9 1387.0,288.9" stroke-width="2.7" fill="#fff" />
<line x1="1383.3" y1="298.8" x2="1390.5" y2="290.8" stroke-width="2.7" />
<line x1="1387.3" y1="301.0" x2="1394.5" y2="293.0" stroke-width="2.7" />
<line x1="1391.3" y1="303.2" x2="1398.5" y2="295.2" stroke-width="2.7" />
<line x1="1395.3" y1="305.4" x2="1402.5" y2="297.4" stroke-width="2.7" />
<line x1="1399.3" y1="307.6" x2="1406.5" y2="299.6" stroke-width="2.7" />
<polygon points="1435.6,367.9 1466.6,384.4 1473.4,371.6 1442.4,355.1" stroke-width="2.7" fill="#fff" />
<polygon points="1418.0,356.1 1437.5,366.6 1442.5,357.4 1423.0,346.9" stroke-width="2.7" fill="#fff" />
<line x1="1419.3" y1="356.8" x2="1426.4" y2="348.7" stroke-width="2.7" />
<line x1="1423.2" y1="358.9" x2="1430.3" y2="350.8" stroke-width="2.7" />
<line x1="1427.1" y1="361.0" x2="1434.2" y2="352.9" stroke-width="2.7" />
<line x1="1431.0" y1="363.1" x2="1438.1" y2="355.0" stroke-width="2.7" />
<line x1="1434.9" y1="365.2" x2="1442.0" y2="357.1" stroke-width="2.7" />
<polygon points="1456.3,334.5 1465.4,324.2 1477.0,323.2 1482.8,327.8 1490.2,344.4 1491.9,366.8 1498.5,371.0 1505.0,390.8 1495.2,408.2 1483.6,410.3 1477.0,405.7 1467.8,384.0 1470.3,364.3 1456.3,342.7" stroke-width="3.0" fill="#fff" />
<polyline points="1465.4,324.2 1461.0,336.0 1462.5,347.0 1474.0,364.0 1472.0,383.0 1481.0,403.0 1483.6,410.3" stroke-width="2.7" fill="none" />
<polyline points="1474.0,364.0 1470.3,364.3" stroke-width="2.7" fill="none" />
<polyline points="1474.0,364.5 1480.0,367.0 1491.9,366.8" stroke-width="2.7" fill="none" />
<polyline points="1480.0,367.0 1476.5,383.0" stroke-width="2.7" fill="none" />
<ellipse cx="1475.6" cy="345.2" rx="10.2" ry="12.2" stroke-width="3.0" fill="#fff" transform="rotate(14 1475.6 345.2)" />
<ellipse cx="1477.2" cy="346.0" rx="6.8" ry="8.8" stroke-width="2.7" fill="none" transform="rotate(14 1477.2 346.0)" />
<ellipse cx="1491.0" cy="391.6" rx="10.2" ry="12.2" stroke-width="3.0" fill="#fff" transform="rotate(14 1491.0 391.6)" />
<ellipse cx="1492.4" cy="392.4" rx="6.8" ry="8.8" stroke-width="2.7" fill="none" transform="rotate(14 1492.4 392.4)" />
<line x1="1399.6" y1="346.0" x2="1457.5" y2="561.0" stroke-width="2.7" stroke-dasharray="9 8.5"/>
<g transform="translate(1206.8 800.8) scale(0.96) translate(-1154.8 -160.7)">
<polygon points="1139.5,155.6 1144.2,148.0 1152.8,146.5 1156.6,169.8 1148.0,171.7 1140.5,165.1" stroke-width="2.7" fill="#fff" />
<line x1="1144.2" y1="148.0" x2="1146.1" y2="168.9" stroke-width="2.7" />
<ellipse cx="1154.7" cy="161.2" rx="10.9" ry="12.8" stroke-width="2.7" fill="#fff" transform="rotate(22 1154.7 161.2)" />
<polyline points="1150.2,174.4 1148.9,174.1 1147.7,173.6 1146.5,172.9 1145.4,172.0 1144.5,171.0 1143.7,169.8 1143.0,168.6 1142.5,167.2 1142.2,165.7 1142.0,164.2 1142.0,162.7 1142.2,161.1 1142.5,159.6 1143.0,158.1 1143.6,156.6 1144.4,155.3 1145.4,154.0 1146.4,152.9 1147.6,151.9 1148.8,151.0 1150.1,150.4 1151.5,149.9 1152.8,149.6 1154.2,149.4" stroke-width="2.7" fill="none" />
<ellipse cx="1155.6" cy="161.6" rx="4.4" ry="5.9" stroke-width="3.2" fill="none" transform="rotate(32 1155.6 161.6)" />
<line x1="1153.3" y1="163.2" x2="1158.0" y2="159.8" stroke-width="2.7" />
<ellipse cx="1180.0" cy="174.4" rx="10.1" ry="12.0" stroke-width="2.7" fill="#fff" transform="rotate(22 1180.0 174.4)" />
<polyline points="1179.5,186.3 1178.0,186.5 1176.6,186.4 1175.2,186.2 1173.9,185.7 1172.6,184.9 1171.5,184.0 1170.6,182.9 1169.8,181.6 1169.2,180.2 1168.9,178.6 1168.7,177.0 1168.7,175.4 1169.0,173.7 1169.4,172.1 1170.1,170.6 1170.9,169.1 1171.9,167.8 1173.1,166.6 1174.3,165.6 1175.7,164.8 1177.1,164.2 1178.5,163.9 1180.0,163.8 1181.4,163.9" stroke-width="2.7" fill="none" />
<ellipse cx="1180.9" cy="174.9" rx="4.0" ry="5.5" stroke-width="3.2" fill="none" transform="rotate(32 1180.9 174.9)" />
<line x1="1178.6" y1="176.2" x2="1183.2" y2="173.0" stroke-width="2.7" />
<polygon points="1169.4,219.4 1174.2,211.8 1182.7,210.4 1186.5,233.7 1178.0,235.6 1170.4,228.9" stroke-width="2.7" fill="#fff" />
<line x1="1174.2" y1="211.8" x2="1176.0" y2="232.8" stroke-width="2.7" />
<ellipse cx="1184.6" cy="225.1" rx="10.9" ry="12.8" stroke-width="2.7" fill="#fff" transform="rotate(22 1184.6 225.1)" />
<polyline points="1180.1,238.3 1178.8,238.0 1177.6,237.5 1176.4,236.8 1175.3,235.9 1174.4,234.9 1173.6,233.7 1172.9,232.5 1172.4,231.1 1172.1,229.6 1171.9,228.1 1171.9,226.6 1172.1,225.0 1172.4,223.5 1172.9,222.0 1173.5,220.5 1174.3,219.2 1175.3,217.9 1176.3,216.8 1177.5,215.8 1178.7,214.9 1180.0,214.3 1181.4,213.8 1182.7,213.5 1184.1,213.3" stroke-width="2.7" fill="none" />
<ellipse cx="1185.5" cy="225.5" rx="4.4" ry="5.9" stroke-width="3.2" fill="none" transform="rotate(32 1185.5 225.5)" />
<line x1="1183.2" y1="227.0" x2="1187.9" y2="223.7" stroke-width="2.7" />
<ellipse cx="1209.0" cy="239.0" rx="10.1" ry="12.0" stroke-width="2.7" fill="#fff" transform="rotate(22 1209.0 239.0)" />
<polyline points="1208.5,250.9 1207.0,251.1 1205.6,251.0 1204.2,250.8 1202.9,250.3 1201.6,249.5 1200.5,248.6 1199.6,247.5 1198.8,246.2 1198.2,244.8 1197.9,243.2 1197.7,241.6 1197.7,240.0 1198.0,238.3 1198.4,236.7 1199.1,235.2 1199.9,233.7 1200.9,232.4 1202.1,231.2 1203.3,230.2 1204.7,229.4 1206.1,228.8 1207.5,228.5 1209.0,228.4 1210.4,228.5" stroke-width="2.7" fill="none" />
<ellipse cx="1209.9" cy="239.5" rx="4.0" ry="5.5" stroke-width="3.2" fill="none" transform="rotate(32 1209.9 239.5)" />
<line x1="1207.6" y1="240.8" x2="1212.2" y2="237.6" stroke-width="2.7" />
<polygon points="1197.0,194.7 1199.6,183.0 1206.2,175.6 1222.7,175.6 1231.0,195.5 1229.4,202.0 1252.6,232.0 1258.4,232.7 1266.6,252.6 1262.5,265.9 1255.9,272.5 1246.0,273.3 1239.3,267.5 1233.5,252.6 1236.0,246.0 1209.5,212.9 1203.7,206.2" stroke-width="3.0" fill="#fff" />
<polyline points="1206.2,175.6 1203.2,185.5 1203.4,195.5 1209.0,207.0 1217.8,217.0 1239.3,246.5 1238.0,252.6 1243.0,266.0 1246.0,273.3" stroke-width="2.7" fill="none" />
<line x1="1217.8" y1="216.2" x2="1230.2" y2="205.4" stroke-width="2.7" />
<line x1="1239.3" y1="243.8" x2="1251.7" y2="232.7" stroke-width="2.7" />
<ellipse cx="1217.0" cy="194.7" rx="4.2" ry="5.4" stroke-width="3.0" fill="none" transform="rotate(25 1217.0 194.7)" />
<line x1="1214.5" y1="196.7" x2="1220.5" y2="193.5" stroke-width="2.7" />
<ellipse cx="1253.4" cy="254.3" rx="4.2" ry="5.4" stroke-width="3.0" fill="none" transform="rotate(25 1253.4 254.3)" />
<line x1="1250.9" y1="256.3" x2="1256.9" y2="253.1" stroke-width="2.7" />
<ellipse cx="1279.5" cy="230.6" rx="11.5" ry="17.5" stroke-width="3.0" fill="#fff" transform="rotate(25 1279.5 230.6)" />
<polyline points="1275.8,246.1 1274.6,245.4 1273.5,244.4 1272.7,243.1 1272.0,241.7 1271.5,240.1 1271.3,238.3 1271.2,236.3 1271.4,234.3 1271.8,232.2 1272.3,230.1 1273.1,228.1 1274.1,226.1 1275.2,224.2 1276.4,222.5 1277.8,220.9 1279.3,219.5 1280.8,218.4 1282.4,217.5 1283.9,216.9 1285.5,216.5 1286.9,216.5 1288.3,216.7 1289.6,217.2 1290.7,218.0" stroke-width="2.7" fill="none" />
<polygon points="1288.0,215.6 1316.0,232.3 1305.5,257.3 1279.0,244.6" stroke-width="0.01" fill="#fff" />
<polyline points="1288.0,215.6 1316.0,232.3" stroke-width="2.7" fill="none" />
<polyline points="1279.0,244.6 1305.5,257.3" stroke-width="2.7" fill="none" />
<polyline points="1290.6,224.2 1303.4,232.1" stroke-width="2.7" fill="none" />
<polyline points="1288.1,234.0 1300.9,241.9" stroke-width="2.7" fill="none" />
<polyline points="1285.9,242.8 1298.6,250.7" stroke-width="2.7" fill="none" />
<ellipse cx="1310.5" cy="244.3" rx="11.5" ry="13.8" stroke-width="3.0" fill="#fff" transform="rotate(12 1310.5 244.3)" />
<polyline points="1313.8,252.3 1312.6,252.7 1311.3,252.7 1310.0,252.5 1308.8,252.0 1307.8,251.3 1306.9,250.3 1306.2,249.1 1305.7,247.8 1305.5,246.4 1305.5,244.9 1305.8,243.5 1306.3,242.1 1307.0,240.8 1307.9,239.8 1309.0,238.9 1310.2,238.3 1311.4,237.9 1312.7,237.9 1314.0,238.1 1315.2,238.6 1316.2,239.3 1317.1,240.3 1317.8,241.5 1318.3,242.8" stroke-width="2.9000000000000004" fill="none" />
<line x1="1309.5" y1="245.8" x2="1316.5" y2="244.8" stroke-width="2.7" />
<polyline points="1303.2,239.0 1303.6,238.2 1304.2,237.4 1304.7,236.7 1305.3,236.1 1306.0,235.5 1306.7,235.0 1307.4,234.6 1308.1,234.2 1308.9,234.0 1309.7,233.7 1310.4,233.6 1311.2,233.6 1312.0,233.6 1312.7,233.7 1313.5,233.9 1314.2,234.2 1314.9,234.6 1315.6,235.0 1316.2,235.5 1316.7,236.1 1317.3,236.7 1317.8,237.4 1318.2,238.1 1318.5,238.9" stroke-width="2.7" fill="none" />
<polyline points="1369.2,259.0 1339.8,246.2 1340.4,248.2 1339.5,247.3 1338.5,246.6 1337.3,246.0 1336.1,245.7 1334.9,245.6 1333.5,245.7 1332.2,246.1 1330.9,246.6 1329.6,247.4 1328.4,248.3 1327.3,249.4 1326.2,250.7 1325.3,252.0 1324.6,253.5 1324.0,255.0 1323.5,256.6 1323.3,258.2 1323.2,259.8 1323.3,261.3 1323.6,262.7 1324.1,264.1 1324.7,265.3 1325.5,266.3 1326.4,267.2" stroke-width="0.01" fill="none" />
<polyline points="1369.2,259.0 1339.8,246.2 1340.1,247.7 1338.1,246.7 1335.9,246.4 1333.5,246.8 1331.1,248.0 1328.9,249.9 1327.1,252.3 1325.7,255.0 1324.9,257.9 1324.6,260.8 1325.0,263.5 1326.0,265.8 1327.6,267.6 1326.8,268.2 1358.2,291.0" stroke-width="2.7" fill="#fff" />
<polyline points="1344.6,252.5 1357.8,260.6" stroke-width="2.7" fill="none" />
<polyline points="1342.1,265.5 1355.3,273.6" stroke-width="2.7" fill="none" />
<polyline points="1339.9,277.2 1353.1,285.3" stroke-width="2.7" fill="none" />
<ellipse cx="1365.2" cy="275.8" rx="15.3" ry="17.4" stroke-width="3.0" fill="#fff" transform="rotate(12 1365.2 275.8)" />
<polyline points="1370.3,284.9 1369.0,285.5 1367.6,285.9 1366.3,285.9 1364.9,285.7 1363.6,285.1 1362.5,284.2 1361.6,283.1 1360.9,281.8 1360.4,280.4 1360.2,278.8 1360.2,277.2 1360.5,275.7 1361.1,274.2 1361.9,272.8 1362.9,271.6 1364.1,270.7 1365.4,270.1 1366.8,269.7 1368.1,269.7 1369.5,269.9 1370.8,270.5 1371.9,271.4 1372.8,272.5 1373.5,273.8" stroke-width="2.7" fill="none" />
<polyline points="1355.6,269.5 1356.1,268.6 1356.7,267.8 1357.4,267.0 1358.1,266.2 1358.9,265.6 1359.7,264.9 1360.5,264.4 1361.4,264.0 1362.3,263.6 1363.2,263.3 1364.1,263.1 1365.0,262.9 1365.9,262.9 1366.8,262.9 1367.8,263.0 1368.7,263.3 1369.5,263.6 1370.4,263.9 1371.2,264.4 1372.0,264.9 1372.7,265.5 1373.4,266.2 1374.0,266.9 1374.6,267.7" stroke-width="2.7" fill="none" />
<polyline points="1356.5,287.7 1356.1,287.3 1355.8,286.8 1355.4,286.4 1355.1,285.9 1354.8,285.4 1354.6,284.9 1354.3,284.4 1354.1,283.9 1353.9,283.3 1353.7,282.8 1353.5,282.2 1353.4,281.6 1353.3,281.1 1353.2,280.5 1353.2,279.9 1353.1,279.3 1353.1,278.6 1353.1,278.0 1353.2,277.4 1353.2,276.8 1353.3,276.2 1353.4,275.6 1353.6,275.0 1353.7,274.4" stroke-width="2.7" fill="none" />
<ellipse cx="1293.3" cy="283.2" rx="11.5" ry="17.5" stroke-width="3.0" fill="#fff" transform="rotate(25 1293.3 283.2)" />
<polyline points="1289.6,298.8 1288.4,298.0 1287.4,297.0 1286.5,295.8 1285.8,294.4 1285.4,292.7 1285.1,290.9 1285.1,289.0 1285.2,287.0 1285.6,284.9 1286.2,282.8 1287.0,280.8 1287.9,278.8 1289.0,276.9 1290.3,275.1 1291.7,273.6 1293.1,272.2 1294.6,271.1 1296.2,270.2 1297.8,269.6 1299.3,269.2 1300.8,269.2 1302.2,269.4 1303.4,269.9 1304.6,270.7" stroke-width="2.7" fill="none" />
<polygon points="1301.8,268.2 1323.5,282.0 1313.0,307.0 1292.8,297.2" stroke-width="0.01" fill="#fff" />
<polyline points="1301.8,268.2 1323.5,282.0" stroke-width="2.7" fill="none" />
<polyline points="1292.8,297.2 1313.0,307.0" stroke-width="2.7" fill="none" />
<polyline points="1303.1,276.3 1312.6,282.6" stroke-width="2.7" fill="none" />
<polyline points="1300.6,286.0 1310.1,292.4" stroke-width="2.7" fill="none" />
<polyline points="1298.3,294.8 1307.9,301.2" stroke-width="2.7" fill="none" />
<ellipse cx="1318.0" cy="294.0" rx="11.5" ry="13.8" stroke-width="3.0" fill="#fff" transform="rotate(12 1318.0 294.0)" />
<polyline points="1321.3,302.0 1320.1,302.4 1318.8,302.4 1317.5,302.2 1316.3,301.7 1315.3,301.0 1314.4,300.0 1313.7,298.8 1313.2,297.5 1313.0,296.1 1313.0,294.6 1313.3,293.2 1313.8,291.8 1314.5,290.5 1315.4,289.5 1316.5,288.6 1317.7,288.0 1318.9,287.6 1320.2,287.6 1321.5,287.8 1322.7,288.3 1323.7,289.0 1324.6,290.0 1325.3,291.2 1325.8,292.5" stroke-width="2.9000000000000004" fill="none" />
<line x1="1317.0" y1="295.5" x2="1324.0" y2="294.5" stroke-width="2.7" />
<polyline points="1310.7,288.7 1311.1,287.9 1311.7,287.1 1312.2,286.4 1312.8,285.8 1313.5,285.2 1314.2,284.7 1314.9,284.3 1315.6,283.9 1316.4,283.7 1317.2,283.4 1317.9,283.3 1318.7,283.3 1319.5,283.3 1320.2,283.4 1321.0,283.6 1321.7,283.9 1322.4,284.3 1323.1,284.7 1323.7,285.2 1324.2,285.8 1324.8,286.4 1325.3,287.1 1325.7,287.8 1326.0,288.6" stroke-width="2.7" fill="none" />
<polyline points="1372.5,305.5 1349.4,295.6 1350.0,297.7 1349.1,296.8 1348.1,296.1 1347.0,295.5 1345.8,295.2 1344.5,295.1 1343.2,295.2 1341.9,295.6 1340.5,296.1 1339.3,296.9 1338.0,297.8 1336.9,298.9 1335.9,300.1 1335.0,301.5 1334.2,303.0 1333.6,304.5 1333.2,306.1 1332.9,307.7 1332.8,309.3 1332.9,310.8 1333.2,312.2 1333.7,313.6 1334.3,314.8 1335.1,315.8 1336.0,316.7" stroke-width="0.01" fill="none" />
<polyline points="1372.5,305.5 1349.4,295.6 1349.7,297.2 1347.7,296.2 1345.5,295.8 1343.1,296.3 1340.7,297.5 1338.6,299.3 1336.7,301.7 1335.3,304.5 1334.5,307.4 1334.3,310.3 1334.7,313.0 1335.7,315.3 1337.2,317.0 1336.4,317.6 1361.5,337.5" stroke-width="2.7" fill="#fff" />
<polyline points="1352.9,301.3 1362.9,307.9" stroke-width="2.7" fill="none" />
<polyline points="1350.4,314.3 1360.4,320.9" stroke-width="2.7" fill="none" />
<polyline points="1348.1,326.0 1358.1,332.6" stroke-width="2.7" fill="none" />
<ellipse cx="1368.5" cy="322.3" rx="15.3" ry="17.4" stroke-width="3.0" fill="#fff" transform="rotate(12 1368.5 322.3)" />
<polyline points="1373.6,331.4 1372.3,332.0 1370.9,332.4 1369.6,332.4 1368.2,332.2 1366.9,331.6 1365.8,330.7 1364.9,329.6 1364.2,328.3 1363.7,326.9 1363.5,325.3 1363.5,323.7 1363.8,322.2 1364.4,320.7 1365.2,319.3 1366.2,318.1 1367.4,317.2 1368.7,316.6 1370.1,316.2 1371.4,316.2 1372.8,316.4 1374.1,317.0 1375.2,317.9 1376.1,319.0 1376.8,320.3" stroke-width="2.7" fill="none" />
<polyline points="1358.9,316.0 1359.4,315.1 1360.0,314.3 1360.7,313.5 1361.4,312.7 1362.2,312.1 1363.0,311.4 1363.8,310.9 1364.7,310.5 1365.6,310.1 1366.5,309.8 1367.4,309.6 1368.3,309.4 1369.2,309.4 1370.1,309.4 1371.1,309.5 1372.0,309.8 1372.8,310.1 1373.7,310.4 1374.5,310.9 1375.3,311.4 1376.0,312.0 1376.7,312.7 1377.3,313.4 1377.9,314.2" stroke-width="2.7" fill="none" />
<polyline points="1359.8,334.2 1359.4,333.8 1359.1,333.3 1358.7,332.9 1358.4,332.4 1358.1,331.9 1357.9,331.4 1357.6,330.9 1357.4,330.4 1357.2,329.8 1357.0,329.3 1356.8,328.7 1356.7,328.1 1356.6,327.6 1356.5,327.0 1356.5,326.4 1356.4,325.8 1356.4,325.1 1356.4,324.5 1356.5,323.9 1356.5,323.3 1356.6,322.7 1356.7,322.1 1356.9,321.5 1357.0,320.9" stroke-width="2.7" fill="none" />
<line x1="1384.5" y1="330.5" x2="1418.5" y2="349.5" stroke-width="2.2" stroke-dasharray="10 7"/>
<polygon points="1399.5,309.3 1456.5,340.8 1463.5,328.2 1406.5,296.7" stroke-width="2.7" fill="#fff" />
<polygon points="1382.0,298.1 1402.0,309.1 1407.0,299.9 1387.0,288.9" stroke-width="2.7" fill="#fff" />
<line x1="1383.3" y1="298.8" x2="1390.5" y2="290.8" stroke-width="2.7" />
<line x1="1387.3" y1="301.0" x2="1394.5" y2="293.0" stroke-width="2.7" />
<line x1="1391.3" y1="303.2" x2="1398.5" y2="295.2" stroke-width="2.7" />
<line x1="1395.3" y1="305.4" x2="1402.5" y2="297.4" stroke-width="2.7" />
<line x1="1399.3" y1="307.6" x2="1406.5" y2="299.6" stroke-width="2.7" />
<polygon points="1435.6,367.9 1466.6,384.4 1473.4,371.6 1442.4,355.1" stroke-width="2.7" fill="#fff" />
<polygon points="1418.0,356.1 1437.5,366.6 1442.5,357.4 1423.0,346.9" stroke-width="2.7" fill="#fff" />
<line x1="1419.3" y1="356.8" x2="1426.4" y2="348.7" stroke-width="2.7" />
<line x1="1423.2" y1="358.9" x2="1430.3" y2="350.8" stroke-width="2.7" />
<line x1="1427.1" y1="361.0" x2="1434.2" y2="352.9" stroke-width="2.7" />
<line x1="1431.0" y1="363.1" x2="1438.1" y2="355.0" stroke-width="2.7" />
<line x1="1434.9" y1="365.2" x2="1442.0" y2="357.1" stroke-width="2.7" />
<polygon points="1456.3,334.5 1465.4,324.2 1477.0,323.2 1482.8,327.8 1490.2,344.4 1491.9,366.8 1498.5,371.0 1505.0,390.8 1495.2,408.2 1483.6,410.3 1477.0,405.7 1467.8,384.0 1470.3,364.3 1456.3,342.7" stroke-width="3.0" fill="#fff" />
<polyline points="1465.4,324.2 1461.0,336.0 1462.5,347.0 1474.0,364.0 1472.0,383.0 1481.0,403.0 1483.6,410.3" stroke-width="2.7" fill="none" />
<polyline points="1474.0,364.0 1470.3,364.3" stroke-width="2.7" fill="none" />
<polyline points="1474.0,364.5 1480.0,367.0 1491.9,366.8" stroke-width="2.7" fill="none" />
<polyline points="1480.0,367.0 1476.5,383.0" stroke-width="2.7" fill="none" />
<ellipse cx="1475.6" cy="345.2" rx="10.2" ry="12.2" stroke-width="3.0" fill="#fff" transform="rotate(14 1475.6 345.2)" />
<ellipse cx="1477.2" cy="346.0" rx="6.8" ry="8.8" stroke-width="2.7" fill="none" transform="rotate(14 1477.2 346.0)" />
<ellipse cx="1491.0" cy="391.6" rx="10.2" ry="12.2" stroke-width="3.0" fill="#fff" transform="rotate(14 1491.0 391.6)" />
<ellipse cx="1492.4" cy="392.4" rx="6.8" ry="8.8" stroke-width="2.7" fill="none" transform="rotate(14 1492.4 392.4)" />
</g>
<polygon points="39.9,596.1 44.8,588.4 53.5,586.9 57.4,610.7 48.6,612.6 40.9,605.9" stroke-width="2.7" fill="#fff" />
<line x1="44.8" y1="588.4" x2="46.7" y2="609.7" stroke-width="2.7" />
<ellipse cx="55.4" cy="602.0" rx="11.2" ry="13.1" stroke-width="2.7" fill="#fff" transform="rotate(22 55.4 602.0)" />
<polyline points="50.9,615.4 49.5,615.1 48.2,614.6 47.1,613.8 46.0,613.0 45.0,611.9 44.2,610.7 43.5,609.4 43.0,608.0 42.6,606.6 42.5,605.0 42.5,603.4 42.6,601.9 43.0,600.3 43.5,598.7 44.1,597.3 45.0,595.9 45.9,594.6 47.0,593.4 48.2,592.4 49.4,591.6 50.8,590.9 52.1,590.4 53.5,590.0 55.0,589.9" stroke-width="2.7" fill="none" />
<ellipse cx="56.4" cy="602.4" rx="4.5" ry="6.0" stroke-width="3.2" fill="none" transform="rotate(32 56.4 602.4)" />
<line x1="54.0" y1="603.9" x2="58.8" y2="600.5" stroke-width="2.7" />
<ellipse cx="81.7" cy="618.3" rx="11.6" ry="13.7" stroke-width="2.7" fill="#fff" transform="rotate(22 81.7 618.3)" />
<polyline points="81.1,631.8 79.4,632.1 77.8,632.0 76.2,631.7 74.7,631.1 73.3,630.3 72.0,629.2 71.0,628.0 70.1,626.5 69.4,624.9 69.0,623.1 68.8,621.3 68.8,619.4 69.1,617.5 69.6,615.7 70.4,613.9 71.3,612.3 72.5,610.7 73.8,609.4 75.2,608.3 76.8,607.4 78.4,606.7 80.0,606.3 81.7,606.2 83.3,606.3" stroke-width="2.7" fill="none" />
<ellipse cx="82.8" cy="618.8" rx="4.6" ry="6.3" stroke-width="3.2" fill="none" transform="rotate(32 82.8 618.8)" />
<line x1="80.1" y1="620.4" x2="85.4" y2="616.7" stroke-width="2.7" />
<ellipse cx="113.8" cy="640.0" rx="17.0" ry="23.5" stroke-width="2.7" fill="#fff" transform="rotate(12 113.8 640.0)" />
<polyline points="110.5,662.6 108.8,661.6 107.3,660.4 105.9,658.9 104.7,657.2 103.7,655.2 102.8,653.1 102.2,650.8 101.7,648.4 101.5,645.9 101.5,643.3 101.7,640.8 102.1,638.2 102.8,635.6 103.7,633.2 104.7,630.8 105.9,628.6 107.3,626.6 108.8,624.8 110.5,623.2 112.2,621.9 114.0,620.8 115.9,620.0 117.8,619.5 119.7,619.2" stroke-width="2.7" fill="none" />
<polyline points="110.9,658.0 110.0,656.8 109.2,655.4 108.5,653.9 108.0,652.4 107.5,650.7 107.2,649.0 107.0,647.2 107.0,645.3 107.1,643.5 107.3,641.6 107.6,639.7 108.0,637.9 108.6,636.1 109.3,634.4 110.0,632.7 110.9,631.1 111.9,629.6 113.0,628.3 114.1,627.0 115.3,626.0 116.6,625.0 117.9,624.2 119.2,623.6 120.5,623.1" stroke-width="2.7" fill="none" />
<polyline points="115.3,618.5 132.3,622.0 146.3,636.0 146.3,670.5 128.3,664.5 120.3,651.5" stroke-width="0.01" fill="#fff" />
<polyline points="115.3,617.5 126.3,618.5 136.3,624.0 146.3,635.5" stroke-width="2.7" fill="none" />
<polyline points="122.3,659.5 130.3,665.0 138.3,669.0" stroke-width="2.7" fill="none" />
<ellipse cx="142.3" cy="653.5" rx="14.5" ry="17.5" stroke-width="2.7" fill="#fff" transform="rotate(10 142.3 653.5)" />
<polyline points="147.0,663.4 145.6,664.3 144.0,664.8 142.4,664.9 140.9,664.7 139.4,664.1 138.1,663.1 137.0,661.8 136.1,660.3 135.6,658.5 135.3,656.6 135.3,654.7 135.6,652.8 136.2,650.9 137.1,649.2 138.2,647.8 139.6,646.6 141.0,645.7 142.6,645.2 144.2,645.1 145.7,645.3 147.2,645.9 148.5,646.9 149.6,648.2 150.5,649.7" stroke-width="2.7" fill="none" />
<polyline points="132.2,665.2 132.0,664.8 131.7,664.3 131.5,663.9 131.3,663.4 131.1,662.9 130.9,662.4 130.8,661.9 130.6,661.4 130.5,660.9 130.4,660.3 130.3,659.8 130.3,659.2 130.2,658.7 130.2,658.1 130.2,657.6 130.2,657.0 130.2,656.4 130.3,655.9 130.4,655.3 130.5,654.8 130.6,654.2 130.7,653.7 130.8,653.1 131.0,652.6" stroke-width="2.7" fill="none" />
<polyline points="137.4,641.7 137.9,641.3 138.5,641.0 139.0,640.7 139.6,640.4 140.1,640.2 140.7,640.0 141.3,639.8 141.9,639.7 142.5,639.6 143.1,639.6 143.6,639.6 144.2,639.6 144.8,639.6 145.4,639.7 146.0,639.9 146.5,640.0 147.1,640.2 147.6,640.5 148.2,640.7 148.7,641.0 149.2,641.4 149.7,641.7 150.1,642.1 150.6,642.6" stroke-width="2.7" fill="none" />
<polyline points="187.0,708.5 158.6,693.2 157.6,684.0 158.6,677.0 161.5,668.0 166.8,660.6 175.0,653.5 187.0,648.8 195.3,650.0 223.8,665.7 240.0,690.0" stroke-width="2.7" fill="#fff" />
<line x1="223.8" y1="665.0" x2="293.5" y2="641.6" stroke-width="2.7" />
<ellipse cx="218.7" cy="697.3" rx="23.3" ry="28.5" stroke-width="2.7" fill="#fff" transform="rotate(10 218.7 697.3)" />
<ellipse cx="218.2" cy="698.3" rx="15.8" ry="19.6" stroke-width="2.7" fill="none" transform="rotate(10 218.2 698.3)" />
<line x1="209.6" y1="689.0" x2="230.0" y2="699.5" stroke-width="2.7" />
<polyline points="160.6,695.3 153.5,696.3 154.5,699.8 179.0,717.7 191.2,726.9 203.5,728.2 219.7,722.3 228.0,715.5 234.0,707.0 238.5,701.0 245.0,697.3" stroke-width="2.7" fill="none" />
<polyline points="160.6,695.3 187.0,708.5 181.0,712.0 179.6,717.7" stroke-width="2.7" fill="none" />
<polyline points="187.0,708.5 190.0,715.5 196.0,721.5 205.0,725.0" stroke-width="2.7" fill="none" />
<polyline points="241.5,698.3 321.7,671.8" stroke-width="2.7" fill="none" />
<polyline points="264.6,699.3 313.5,682.0" stroke-width="2.7" fill="none" />
<polyline points="264.6,699.3 272.8,703.6 315.6,688.7" stroke-width="2.7" fill="none" />
<polyline points="279.0,715.0 260.5,706.0 252.0,709.5 246.0,718.5 244.5,728.5 247.5,736.5 255.0,741.5 267.0,747.5 285.0,746.5" stroke-width="2.7" fill="#fff" />
<ellipse cx="285.0" cy="736.5" rx="20.0" ry="23.0" stroke-width="2.7" fill="#fff" transform="rotate(10 285.0 736.5)" />
<polyline points="291.2,747.8 289.6,748.7 287.8,749.3 286.1,749.4 284.3,749.2 282.7,748.5 281.2,747.4 280.0,746.0 279.0,744.3 278.3,742.3 278.0,740.3 278.0,738.1 278.3,736.0 279.0,734.0 280.0,732.1 281.3,730.5 282.8,729.2 284.4,728.3 286.2,727.7 287.9,727.6 289.7,727.8 291.3,728.5 292.8,729.6 294.0,731.0 295.0,732.7" stroke-width="2.7" fill="none" />
<polyline points="270.5,748.4 270.3,747.9 270.1,747.3 269.9,746.8 269.7,746.2 269.6,745.7 269.4,745.1 269.3,744.5 269.2,743.9 269.1,743.3 269.0,742.7 269.0,742.1 268.9,741.5 268.9,740.9 268.9,740.3 268.9,739.6 269.0,739.0 269.0,738.4 269.1,737.8 269.2,737.2 269.3,736.6 269.4,736.0 269.6,735.4 269.8,734.8 269.9,734.2" stroke-width="2.7" fill="none" />
<polyline points="281.0,718.9 281.7,718.6 282.3,718.4 283.0,718.1 283.7,718.0 284.4,717.8 285.1,717.7 285.8,717.6 286.5,717.6 287.2,717.6 287.9,717.6 288.6,717.7 289.3,717.8 290.0,717.9 290.7,718.1 291.3,718.3 292.0,718.6 292.6,718.8 293.3,719.1 293.9,719.5 294.5,719.9 295.1,720.3 295.6,720.7 296.2,721.2 296.7,721.7" stroke-width="2.7" fill="none" />
<polygon points="334.8,752.4 370.5,772.8 363.4,792.2 324.6,769.7 322.5,765.7 328.7,752.4" stroke-width="2.7" fill="#fff" />
<polygon points="303.0,760.0 322.3,770.4 328.9,758.0 309.6,747.6" stroke-width="2.7" fill="#fff" />
<line x1="304.8" y1="761.0" x2="313.6" y2="749.8" stroke-width="2.7" />
<line x1="309.6" y1="763.6" x2="318.4" y2="752.4" stroke-width="2.7" />
<line x1="314.5" y1="766.2" x2="323.2" y2="755.0" stroke-width="2.7" />
<line x1="319.3" y1="768.8" x2="328.0" y2="757.6" stroke-width="2.7" />
<polyline points="305.6,750.4 313.4,744.3 328.7,752.4" stroke-width="2.7" fill="none" />
<polygon points="371.5,768.7 376.6,765.7 384.8,762.6 387.8,754.5 391.0,751.6 395.0,750.4 399.0,750.6 402.0,752.0 404.6,755.0 405.2,758.5 400.0,768.7 405.7,779.0 395.0,807.5 387.8,814.6 375.6,819.2 370.0,818.0 365.4,814.6 359.3,805.4 361.3,795.2" stroke-width="2.9000000000000004" fill="#fff" />
<polyline points="372.5,779.0 376.6,768.7 385.8,764.6 391.9,754.5" stroke-width="2.7" fill="none" />
<polyline points="361.8,804.0 364.0,798.5 366.5,798.0" stroke-width="2.7" fill="none" />
<polyline points="398.8,764.1 398.2,764.4 397.5,764.6 396.8,764.6 396.1,764.5 395.4,764.2 394.8,763.9 394.3,763.4 393.9,762.8 393.6,762.2 393.4,761.5 393.4,760.8 393.5,760.1 393.8,759.4 394.1,758.8 394.6,758.3 395.2,757.9 395.8,757.6 396.5,757.4 397.2,757.4 397.9,757.5 398.6,757.8 399.2,758.1 399.7,758.6 400.1,759.2" stroke-width="2.7" fill="none" />
<ellipse cx="384.8" cy="793.2" rx="12.0" ry="13.0" stroke-width="3.3000000000000003" fill="none" />
<polyline points="383.0,804.5 381.9,804.2 380.8,803.8 379.7,803.3 378.8,802.6 377.9,801.8 377.1,801.0 376.3,800.0 375.7,799.0 375.2,797.8 374.8,796.7 374.5,795.4 374.3,794.2 374.3,792.9 374.4,791.7 374.6,790.5 374.9,789.3 375.4,788.1 375.9,787.0 376.6,786.0 377.4,785.1 378.2,784.2 379.2,783.5 380.2,782.9 381.2,782.4" stroke-width="3.9000000000000004" fill="none" />
<ellipse cx="387.6" cy="795.0" rx="8.0" ry="8.2" stroke-width="2.7" fill="none" />
<polyline points="379.5,787.5 389.0,782.5" stroke-width="2.7" fill="none" />
<ellipse cx="388.5" cy="795.0" rx="1.2" ry="1.0" stroke-width="1.5" fill="none" />
<polygon points="407.0,769.5 417.0,775.8 421.0,769.4 411.0,763.1" stroke-width="3.3000000000000003" fill="#fff" />
<line x1="408.0" y1="770.1" x2="414.0" y2="765.0" stroke-width="3.3000000000000003" />
<line x1="411.3" y1="772.2" x2="417.3" y2="767.1" stroke-width="3.3000000000000003" />
<line x1="414.7" y1="774.3" x2="420.7" y2="769.2" stroke-width="3.3000000000000003" />
<polygon points="417.4,773.0 420.0,769.5 427.0,768.3 432.5,771.5 434.7,777.0 432.5,782.5 427.0,785.3 420.5,784.3 417.4,779.0" stroke-width="3.0" fill="#fff" />
<line x1="421.0" y1="775.5" x2="430.0" y2="778.0" stroke-width="2.7" />
<line x1="424.0" y1="781.0" x2="425.5" y2="784.5" stroke-width="2.7" />
<polygon points="312.7,830.0 321.6,825.4 342.0,854.0 347.6,850.8 348.4,871.2 328.0,861.8 334.4,858.0" stroke-width="2.7" fill="#fff" />
<polygon points="329.7,904.6 334.6,896.9 343.3,895.4 347.2,919.2 338.4,921.1 330.7,914.4" stroke-width="2.7" fill="#fff" />
<line x1="334.6" y1="896.9" x2="336.5" y2="918.2" stroke-width="2.7" />
<ellipse cx="345.2" cy="910.5" rx="11.2" ry="13.1" stroke-width="2.7" fill="#fff" transform="rotate(22 345.2 910.5)" />
<polyline points="340.7,923.9 339.3,923.6 338.0,923.1 336.9,922.3 335.8,921.5 334.8,920.4 334.0,919.2 333.3,917.9 332.8,916.5 332.4,915.1 332.3,913.5 332.3,911.9 332.4,910.4 332.8,908.8 333.3,907.2 333.9,905.8 334.8,904.4 335.7,903.1 336.8,901.9 338.0,900.9 339.2,900.1 340.6,899.4 341.9,898.9 343.3,898.5 344.8,898.4" stroke-width="2.7" fill="none" />
<ellipse cx="346.2" cy="910.9" rx="4.5" ry="6.0" stroke-width="3.2" fill="none" transform="rotate(32 346.2 910.9)" />
<line x1="343.8" y1="912.4" x2="348.6" y2="909.0" stroke-width="2.7" />
<ellipse cx="370.0" cy="925.5" rx="11.2" ry="13.3" stroke-width="2.7" fill="#fff" transform="rotate(22 370.0 925.5)" />
<polyline points="369.4,938.7 367.8,938.9 366.2,938.8 364.6,938.5 363.2,938.0 361.8,937.2 360.6,936.1 359.6,934.9 358.7,933.5 358.1,931.9 357.7,930.2 357.5,928.4 357.5,926.6 357.8,924.8 358.3,923.0 359.0,921.2 359.9,919.6 361.0,918.2 362.3,916.9 363.7,915.7 365.2,914.9 366.8,914.2 368.4,913.8 370.0,913.7 371.6,913.9" stroke-width="2.7" fill="none" />
<ellipse cx="371.0" cy="926.0" rx="4.5" ry="6.1" stroke-width="3.2" fill="none" transform="rotate(32 371.0 926.0)" />
<line x1="368.5" y1="927.5" x2="373.6" y2="924.0" stroke-width="2.7" />
<polygon points="497.7,1002.2 537.7,1024.2 542.3,1015.8 502.3,993.8" stroke-width="2.7" fill="#fff" />
<polygon points="475.3,990.3 500.6,1004.0 505.4,995.2 480.1,981.5" stroke-width="2.7" fill="#fff" />
<line x1="477.3" y1="991.4" x2="484.2" y2="983.7" stroke-width="2.7" />
<line x1="482.4" y1="994.1" x2="489.2" y2="986.5" stroke-width="2.7" />
<line x1="487.4" y1="996.8" x2="494.3" y2="989.2" stroke-width="2.7" />
<line x1="492.5" y1="999.6" x2="499.4" y2="991.9" stroke-width="2.7" />
<line x1="497.5" y1="1002.3" x2="504.4" y2="994.7" stroke-width="2.7" />
<ellipse cx="546.2" cy="1024.6" rx="14.0" ry="14.3" stroke-width="2.7" fill="#fff" />
<polyline points="538.0,1016.5 541.0,1019.0" stroke-width="2.7" fill="none" />
<polyline points="551.0,1013.5 552.0,1017.0" stroke-width="2.7" fill="none" />
<polyline points="540.0,1031.0 541.0,1035.0" stroke-width="2.7" fill="none" />
<polyline points="536.0,1023.0 540.0,1024.5" stroke-width="2.7" fill="none" />
<polygon points="270.0,41.6 284.0,47.1 288.0,36.9 274.0,31.4" stroke-width="2.7" fill="#fff" />
<line x1="271.7" y1="42.3" x2="277.9" y2="32.9" stroke-width="2.7" />
<line x1="276.3" y1="44.1" x2="282.6" y2="34.8" stroke-width="2.7" />
<line x1="281.0" y1="45.9" x2="287.3" y2="36.6" stroke-width="2.7" />
<polygon points="250.5,26.0 256.0,18.5 266.0,19.0 270.0,27.0 262.0,44.0 256.0,42.0 250.5,34.0" stroke-width="2.7" fill="#fff" />
<line x1="255.0" y1="20.0" x2="257.0" y2="40.0" stroke-width="2.7" />
<ellipse cx="266.0" cy="32.5" rx="10.5" ry="12.5" stroke-width="2.7" fill="#fff" transform="rotate(20 266.0 32.5)" />
<ellipse cx="270.0" cy="34.0" rx="5.2" ry="7.0" stroke-width="3.0" fill="#fff" transform="rotate(20 270.0 34.0)" />
<polygon points="269.9,40.3 283.9,46.3 288.1,36.7 274.1,30.7" stroke-width="2.7" fill="#fff" />
<line x1="271.6" y1="41.1" x2="278.0" y2="32.3" stroke-width="2.7" />
<line x1="276.3" y1="43.1" x2="282.6" y2="34.3" stroke-width="2.7" />
<line x1="281.0" y1="45.1" x2="287.3" y2="36.3" stroke-width="2.7" />
<polygon points="164.5,380.6 178.5,386.1 182.5,375.9 168.5,370.4" stroke-width="2.7" fill="#fff" />
<line x1="166.2" y1="381.3" x2="172.4" y2="371.9" stroke-width="2.7" />
<line x1="170.8" y1="383.1" x2="177.1" y2="373.8" stroke-width="2.7" />
<line x1="175.5" y1="384.9" x2="181.8" y2="375.6" stroke-width="2.7" />
<polygon points="145.0,365.0 150.5,357.5 160.5,358.0 164.5,366.0 156.5,383.0 150.5,381.0 145.0,373.0" stroke-width="2.7" fill="#fff" />
<line x1="149.5" y1="359.0" x2="151.5" y2="379.0" stroke-width="2.7" />
<ellipse cx="160.5" cy="371.5" rx="10.5" ry="12.5" stroke-width="2.7" fill="#fff" transform="rotate(20 160.5 371.5)" />
<ellipse cx="164.5" cy="373.0" rx="5.2" ry="7.0" stroke-width="3.0" fill="#fff" transform="rotate(20 164.5 373.0)" />
<polygon points="164.4,379.3 178.4,385.3 182.6,375.7 168.6,369.7" stroke-width="2.7" fill="#fff" />
<line x1="166.1" y1="380.1" x2="172.5" y2="371.3" stroke-width="2.7" />
<line x1="170.8" y1="382.1" x2="177.1" y2="373.3" stroke-width="2.7" />
<line x1="175.5" y1="384.1" x2="181.8" y2="375.3" stroke-width="2.7" />
<ellipse cx="316.0" cy="62.0" rx="13.5" ry="17.5" stroke-width="2.7" fill="#fff" transform="rotate(25 316.0 62.0)" />
<polyline points="313.9,79.1 311.9,79.3 309.9,79.3 308.1,78.8 306.3,78.1 304.8,77.0 303.4,75.6 302.3,74.0 301.4,72.1 300.8,70.0 300.5,67.8 300.4,65.5 300.7,63.1 301.2,60.7 302.0,58.4 303.1,56.2 304.4,54.1 305.9,52.2 307.6,50.5 309.4,49.1 311.3,48.0 313.3,47.2 315.3,46.8 317.3,46.6 319.2,46.9" stroke-width="2.7" fill="none" />
<ellipse cx="318.2" cy="62.8" rx="6.0" ry="9.0" stroke-width="3.2" fill="none" transform="rotate(33 318.2 62.8)" />
<polyline points="323.8,58.2 323.9,58.5 324.0,58.9 324.1,59.3 324.1,59.8 324.0,60.2 324.0,60.7 323.9,61.2 323.7,61.8 323.5,62.3 323.3,62.8 323.1,63.4 322.8,63.9 322.5,64.4 322.2,65.0 321.9,65.5 321.5,66.0 321.1,66.4 320.7,66.9 320.3,67.3 319.9,67.6 319.5,68.0 319.1,68.3 318.6,68.5 318.2,68.8" stroke-width="2.7" fill="none" />
<ellipse cx="212.5" cy="400.5" rx="13.5" ry="17.5" stroke-width="2.7" fill="#fff" transform="rotate(25 212.5 400.5)" />
<polyline points="210.4,417.6 208.4,417.8 206.4,417.8 204.6,417.3 202.8,416.6 201.3,415.5 199.9,414.1 198.8,412.5 197.9,410.6 197.3,408.5 197.0,406.3 196.9,404.0 197.2,401.6 197.7,399.2 198.5,396.9 199.6,394.7 200.9,392.6 202.4,390.7 204.1,389.0 205.9,387.6 207.8,386.5 209.8,385.7 211.8,385.3 213.8,385.1 215.7,385.4" stroke-width="2.7" fill="none" />
<ellipse cx="214.7" cy="401.3" rx="6.0" ry="9.0" stroke-width="3.2" fill="none" transform="rotate(33 214.7 401.3)" />
<polyline points="220.3,396.7 220.4,397.0 220.5,397.4 220.6,397.8 220.6,398.3 220.5,398.7 220.5,399.2 220.4,399.7 220.2,400.3 220.0,400.8 219.8,401.3 219.6,401.9 219.3,402.4 219.0,402.9 218.7,403.5 218.4,404.0 218.0,404.5 217.6,404.9 217.2,405.4 216.8,405.8 216.4,406.1 216.0,406.5 215.6,406.8 215.1,407.0 214.7,407.3" stroke-width="2.7" fill="none" />
<line x1="336.0" y1="73.0" x2="402.0" y2="111.0" stroke-width="2.2" stroke-dasharray="9.5 7"/>
<line x1="231.0" y1="412.6" x2="322.0" y2="462.0" stroke-width="2.2" stroke-dasharray="9.5 7"/>
<line x1="566.0" y1="203.0" x2="676.0" y2="263.5" stroke-width="2.2" stroke-dasharray="9.5 7"/>
<line x1="481.5" y1="551.0" x2="612.0" y2="622.5" stroke-width="2.2" stroke-dasharray="9.5 7"/>
<line x1="643.7" y1="644.3" x2="877.0" y2="781.5" stroke-width="2.2" stroke-dasharray="9.5 7"/>
<line x1="973.0" y1="840.6" x2="1004.0" y2="858.5" stroke-width="2.2" stroke-dasharray="9.5 7"/>
<ellipse cx="690.0" cy="271.5" rx="13.5" ry="17.0" stroke-width="3.3000000000000003" fill="#fff" transform="rotate(18 690.0 271.5)" />
<polyline points="690.1,286.6 688.1,287.1 686.1,287.2 684.2,286.9 682.4,286.2 680.8,285.2 679.3,283.8 678.1,282.1 677.2,280.2 676.5,278.0 676.2,275.7 676.1,273.3 676.4,270.9 677.0,268.5 677.9,266.2 679.1,264.0 680.5,262.1 682.1,260.4 683.8,259.0 685.7,257.9 687.7,257.2 689.6,256.8 691.6,256.9 693.5,257.3 695.2,258.1" stroke-width="3.9000000000000004" fill="none" />
<ellipse cx="692.2" cy="271.5" rx="9.5" ry="13.0" stroke-width="2.4000000000000004" fill="none" transform="rotate(18 692.2 271.5)" />
<ellipse cx="690.5" cy="269.0" rx="4.6" ry="8.2" stroke-width="3.5" fill="none" transform="rotate(22 690.5 269.0)" />
<ellipse cx="627.0" cy="631.5" rx="13.5" ry="17.0" stroke-width="3.3000000000000003" fill="#fff" transform="rotate(18 627.0 631.5)" />
<polyline points="627.1,646.6 625.1,647.1 623.1,647.2 621.2,646.9 619.4,646.2 617.8,645.2 616.3,643.8 615.1,642.1 614.2,640.2 613.5,638.0 613.2,635.7 613.1,633.3 613.4,630.9 614.0,628.5 614.9,626.2 616.1,624.0 617.5,622.1 619.1,620.4 620.8,619.0 622.7,617.9 624.7,617.2 626.6,616.8 628.6,616.9 630.5,617.3 632.2,618.1" stroke-width="3.9000000000000004" fill="none" />
<ellipse cx="629.2" cy="631.5" rx="9.5" ry="13.0" stroke-width="2.4000000000000004" fill="none" transform="rotate(18 629.2 631.5)" />
<ellipse cx="627.5" cy="629.0" rx="4.6" ry="8.2" stroke-width="3.5" fill="none" transform="rotate(22 627.5 629.0)" />
<ellipse cx="428.2" cy="128.0" rx="16.5" ry="16.5" stroke-width="2.7" fill="#fff" />
<polyline points="437.7,138.0 436.5,138.8 435.1,139.2 433.7,139.3 432.4,139.0 431.1,138.5 429.9,137.7 429.0,136.6 428.2,135.3 427.7,133.9 427.4,132.3 427.4,130.7 427.7,129.1 428.2,127.5 429.0,126.1 429.9,124.9 431.1,124.0 432.3,123.2 433.7,122.8 435.1,122.7 436.4,123.0 437.7,123.5 438.9,124.3 439.8,125.4 440.6,126.7" stroke-width="2.7" fill="none" />
<polyline points="425.5,120.4 426.0,119.9 426.5,119.4 427.0,118.9 427.6,118.5 428.2,118.1 428.8,117.8 429.4,117.4 430.0,117.2 430.6,117.0 431.3,116.8 431.9,116.7 432.6,116.6 433.2,116.6 433.9,116.6 434.5,116.6 435.2,116.7 435.8,116.9 436.4,117.1 437.0,117.4 437.6,117.7 438.2,118.0 438.7,118.4 439.3,118.8 439.8,119.3" stroke-width="2.7" fill="none" />
<polyline points="443.4,133.8 443.2,134.4 443.0,135.0 442.7,135.5 442.5,136.1 442.1,136.6 441.8,137.2 441.5,137.7 441.1,138.2 440.7,138.7 440.3,139.1 439.9,139.5 439.5,140.0 439.0,140.3 438.6,140.7 438.1,141.0 437.6,141.4 437.1,141.6 436.6,141.9 436.1,142.1 435.5,142.3 435.0,142.5 434.5,142.7 433.9,142.8 433.4,142.9" stroke-width="2.7" fill="none" />
<line x1="422.7" y1="131.0" x2="422.7" y2="139.0" stroke-width="3.1" />
<ellipse cx="549.5" cy="192.5" rx="16.5" ry="16.5" stroke-width="2.7" fill="#fff" />
<polyline points="559.0,202.5 557.8,203.3 556.4,203.7 555.0,203.8 553.7,203.5 552.4,203.0 551.2,202.2 550.3,201.1 549.5,199.8 549.0,198.4 548.7,196.8 548.7,195.2 549.0,193.6 549.5,192.0 550.3,190.6 551.2,189.4 552.4,188.5 553.6,187.7 555.0,187.3 556.4,187.2 557.7,187.5 559.0,188.0 560.2,188.8 561.1,189.9 561.9,191.2" stroke-width="2.7" fill="none" />
<polyline points="546.8,184.9 547.3,184.4 547.8,183.9 548.3,183.4 548.9,183.0 549.5,182.6 550.1,182.3 550.7,181.9 551.3,181.7 551.9,181.5 552.6,181.3 553.2,181.2 553.9,181.1 554.5,181.1 555.2,181.1 555.8,181.1 556.5,181.2 557.1,181.4 557.7,181.6 558.3,181.9 558.9,182.2 559.5,182.5 560.0,182.9 560.6,183.3 561.1,183.8" stroke-width="2.7" fill="none" />
<polyline points="564.7,198.3 564.5,198.9 564.3,199.5 564.0,200.0 563.8,200.6 563.4,201.1 563.1,201.7 562.8,202.2 562.4,202.7 562.0,203.2 561.6,203.6 561.2,204.0 560.8,204.5 560.3,204.8 559.9,205.2 559.4,205.5 558.9,205.9 558.4,206.1 557.9,206.4 557.4,206.6 556.8,206.8 556.3,207.0 555.8,207.2 555.2,207.3 554.7,207.4" stroke-width="2.7" fill="none" />
<line x1="544.0" y1="195.5" x2="544.0" y2="203.5" stroke-width="3.1" />
<ellipse cx="340.5" cy="474.5" rx="16.5" ry="16.5" stroke-width="2.7" fill="#fff" />
<polyline points="350.0,484.5 348.8,485.3 347.4,485.7 346.0,485.8 344.7,485.5 343.4,485.0 342.2,484.2 341.3,483.1 340.5,481.8 340.0,480.4 339.7,478.8 339.7,477.2 340.0,475.6 340.5,474.0 341.3,472.6 342.2,471.4 343.4,470.5 344.6,469.7 346.0,469.3 347.4,469.2 348.7,469.5 350.0,470.0 351.2,470.8 352.1,471.9 352.9,473.2" stroke-width="2.7" fill="none" />
<polyline points="337.8,466.9 338.3,466.4 338.8,465.9 339.3,465.4 339.9,465.0 340.5,464.6 341.1,464.3 341.7,463.9 342.3,463.7 342.9,463.5 343.6,463.3 344.2,463.2 344.9,463.1 345.5,463.1 346.2,463.1 346.8,463.1 347.5,463.2 348.1,463.4 348.7,463.6 349.3,463.9 349.9,464.2 350.5,464.5 351.0,464.9 351.6,465.3 352.1,465.8" stroke-width="2.7" fill="none" />
<polyline points="355.7,480.3 355.5,480.9 355.3,481.5 355.0,482.0 354.8,482.6 354.4,483.1 354.1,483.7 353.8,484.2 353.4,484.7 353.0,485.2 352.6,485.6 352.2,486.0 351.8,486.5 351.3,486.8 350.9,487.2 350.4,487.5 349.9,487.9 349.4,488.1 348.9,488.4 348.4,488.6 347.8,488.8 347.3,489.0 346.8,489.2 346.2,489.3 345.7,489.4" stroke-width="2.7" fill="none" />
<line x1="335.0" y1="477.5" x2="335.0" y2="485.5" stroke-width="3.1" />
<ellipse cx="444.3" cy="530.5" rx="16.5" ry="16.5" stroke-width="2.7" fill="#fff" />
<polyline points="453.8,540.5 452.6,541.3 451.2,541.7 449.8,541.8 448.5,541.5 447.2,541.0 446.0,540.2 445.1,539.1 444.3,537.8 443.8,536.4 443.5,534.8 443.5,533.2 443.8,531.6 444.3,530.0 445.1,528.6 446.0,527.4 447.2,526.5 448.4,525.7 449.8,525.3 451.2,525.2 452.5,525.5 453.8,526.0 455.0,526.8 455.9,527.9 456.7,529.2" stroke-width="2.7" fill="none" />
<polyline points="441.6,522.9 442.1,522.4 442.6,521.9 443.1,521.4 443.7,521.0 444.3,520.6 444.9,520.3 445.5,519.9 446.1,519.7 446.7,519.5 447.4,519.3 448.0,519.2 448.7,519.1 449.3,519.1 450.0,519.1 450.6,519.1 451.3,519.2 451.9,519.4 452.5,519.6 453.1,519.9 453.7,520.2 454.3,520.5 454.8,520.9 455.4,521.3 455.9,521.8" stroke-width="2.7" fill="none" />
<polyline points="459.5,536.3 459.3,536.9 459.1,537.5 458.8,538.0 458.6,538.6 458.2,539.1 457.9,539.7 457.6,540.2 457.2,540.7 456.8,541.2 456.4,541.6 456.0,542.0 455.6,542.5 455.1,542.8 454.7,543.2 454.2,543.5 453.7,543.9 453.2,544.1 452.7,544.4 452.2,544.6 451.6,544.8 451.1,545.0 450.6,545.2 450.0,545.3 449.5,545.4" stroke-width="2.7" fill="none" />
<line x1="438.8" y1="533.5" x2="438.8" y2="541.5" stroke-width="3.1" />
<ellipse cx="400.5" cy="505.5" rx="21.5" ry="22.0" stroke-width="2.7" fill="#fff" />
<ellipse cx="405.5" cy="509.5" rx="11.0" ry="16.5" stroke-width="3.0" fill="none" transform="rotate(22 405.5 509.5)" />
<polyline points="413.5,498.0 413.9,498.7 414.3,499.4 414.7,500.2 414.9,501.0 415.2,501.9 415.3,502.9 415.4,503.9 415.5,504.9 415.4,506.0 415.3,507.1 415.2,508.2 415.0,509.3 414.7,510.4 414.4,511.5 414.0,512.6 413.5,513.6 413.0,514.7 412.5,515.7 411.9,516.7 411.2,517.6 410.6,518.5 409.9,519.3 409.2,520.0 408.4,520.7" stroke-width="3.5" fill="none" />
<polyline points="398.3,510.8 398.4,510.2 398.4,509.6 398.5,509.0 398.6,508.4 398.7,507.8 398.9,507.2 399.1,506.6 399.3,506.0 399.5,505.4 399.8,504.8 400.0,504.2 400.3,503.6 400.6,503.1 401.0,502.6 401.3,502.0 401.7,501.6 402.0,501.1 402.4,500.6 402.8,500.2 403.3,499.8 403.7,499.4 404.1,499.1 404.5,498.8 405.0,498.5" stroke-width="2.7" fill="none" />
<polyline points="395.3,453.5 391.2,474.3 392.3,478.2 397.0,483.0 408.2,487.3 418.0,487.5 424.8,484.3 426.0,479.2 429.9,463.2" stroke-width="2.7" fill="#fff" />
<polyline points="391.2,474.3 397.0,479.5 408.2,483.0 418.0,483.2 426.0,479.2" stroke-width="2.7" fill="none" />
<polyline points="416.6,364.8 394.9,443.8 395.3,453.5 402.0,457.5 412.0,460.7 422.0,463.0 429.9,463.2 435.0,455.0 455.4,372.0" stroke-width="2.7" fill="#fff" />
<polyline points="394.9,443.8 402.0,448.5 412.0,452.4 424.0,455.0 435.0,455.0" stroke-width="2.7" fill="none" />
<polyline points="460.5,177.0 413.8,359.5 417.0,364.5 426.0,369.0 440.0,372.0 452.0,371.6 458.5,369.5 460.2,366.5 505.4,186.5" stroke-width="2.7" fill="#fff" />
<polyline points="460.5,177.5 463.0,173.5 470.0,171.0 478.0,171.5" stroke-width="2.7" fill="none" />
<polyline points="460.5,177.5 466.0,183.0 478.0,187.8 491.0,189.8 500.0,189.0 505.4,186.5 504.5,181.0 497.0,176.0" stroke-width="2.7" fill="none" />
<polyline points="471.5,174.0 478.0,179.0 488.0,182.0 497.0,181.5" stroke-width="2.7" fill="none" />
<ellipse cx="489.5" cy="156.8" rx="22.3" ry="21.6" stroke-width="2.7" fill="#fff" />
<ellipse cx="495.8" cy="161.2" rx="10.5" ry="16.0" stroke-width="3.0" fill="none" transform="rotate(20 495.8 161.2)" />
<polyline points="504.2,145.5 505.0,146.1 505.8,146.9 506.5,147.8 507.2,148.9 507.7,150.0 508.2,151.2 508.5,152.4 508.8,153.8 509.0,155.2 509.0,156.6 509.0,158.1 508.8,159.5 508.6,161.0 508.2,162.5 507.8,164.0 507.2,165.5 506.6,166.9 505.9,168.2 505.1,169.5 504.2,170.7 503.3,171.9 502.3,172.9 501.3,173.8 500.2,174.6" stroke-width="3.7" fill="none" />
<polyline points="484.8,172.7 484.5,172.1 484.2,171.4 484.0,170.7 483.7,170.0 483.6,169.2 483.4,168.4 483.3,167.6 483.2,166.8 483.2,165.9 483.2,165.0 483.3,164.2 483.4,163.3 483.5,162.4 483.6,161.5 483.8,160.6 484.1,159.7 484.3,158.8 484.6,157.9 485.0,157.0 485.3,156.2 485.7,155.4 486.2,154.5 486.6,153.7 487.1,153.0" stroke-width="3.7" fill="none" />
<polyline points="490.0,147.0 496.0,143.5 503.0,143.5" stroke-width="2.7" fill="none" />
<line x1="499.5" y1="150.5" x2="500.0" y2="158.0" stroke-width="2.7" />
<polyline points="487.0,169.5 492.0,168.5 496.0,166.2" stroke-width="2.7" fill="none" />
<rect x="262.6" y="97" width="385.9" height="458.8" stroke-width="2.4" fill="none"/>
<rect x="735.3" y="41.6" width="155" height="181" stroke-width="2.4" fill="none"/>
<rect x="1179.2" y="780" width="375.6" height="267.2" stroke-width="2.4" fill="none"/>
<polyline points="13.6,591.5 13.6,571.8 505.6,571.8 505.6,591.5" stroke-width="2.7" fill="none" />
<text transform="translate(322.0 30.3) scale(0.85 1)" x="5.3 17.7 30.1 42.5 54.8 67.2 79.6 92.0 104.3 116.7 129.1 141.5 153.8 166.2" y="0" font-size="19.1" text-anchor="middle" class="cd">90105-T0128(2)</text>
<line x1="277.0" y1="25.4" x2="313.0" y2="25.4" stroke-width="2.7" />
<text transform="translate(114.6 333.9) scale(0.85 1)" x="5.4 17.6 29.8 42.1 54.3 66.5 78.7 91.0 103.2 115.4 127.6 139.8 152.1 164.3" y="0" font-size="19.4" text-anchor="middle" class="cd">90105-T0128(2)</text>
<line x1="170.2" y1="339.0" x2="170.2" y2="364.0" stroke-width="2.7" />
<text transform="translate(108.3 598.1) scale(0.85 1)" x="5.4 17.7 29.9 42.2 54.4 66.7 78.9 91.2 103.4 115.7 127.9 140.1 152.4 164.6" y="0" font-size="19.4" text-anchor="middle" class="cd">90178-T0061(2)</text>
<line x1="65.5" y1="594.3" x2="105.0" y2="594.3" stroke-width="2.7" />
<text transform="translate(11.5 692.3) scale(0.85 1)" x="5.4 17.6 29.8 42.0 54.2 66.4 78.6 90.8 103.0 115.2 127.3 139.5 151.7 163.9" y="0" font-size="19.6" text-anchor="middle" class="cd">48373-0K010(2)</text>
<polyline points="76.4,630.4 68.8,648.5 68.8,677.0" stroke-width="2.7" fill="none" />
<text transform="translate(368.0 736.1) scale(0.85 1)" x="5.3 17.6 29.8 42.0 54.3 66.5 78.8 91.0 103.3 115.5 127.7 140.0 152.2 164.5" y="0" font-size="19.1" text-anchor="middle" class="cd">90119-T0028(2)</text>
<line x1="424.0" y1="741.0" x2="424.0" y2="769.0" stroke-width="2.7" />
<text transform="translate(154.0 912.9) scale(0.85 1)" x="5.4 17.7 29.9 42.2 54.4 66.7 78.9 91.2 103.4 115.7 127.9 140.1 152.4 164.6" y="0" font-size="19.4" text-anchor="middle" class="cd">90178-T0061(2)</text>
<line x1="298.7" y1="907.6" x2="329.5" y2="907.6" stroke-width="2.7" />
<text transform="translate(182.8 941.1) scale(0.85 1)" x="5.4 17.6 29.8 42.0 54.2 66.4 78.6 90.8 103.0 115.2 127.4 139.7 151.9 164.1" y="0" font-size="19.4" text-anchor="middle" class="cd">90201-T0006(2)</text>
<line x1="326.2" y1="937.0" x2="365.0" y2="937.0" stroke-width="2.7" />
<text transform="translate(602.0 1030.7) scale(0.85 1)" x="5.4 17.7 30.0 42.2 54.5 66.8 79.1 91.3 103.6 115.9 128.2 140.4 152.7 165.0" y="0" font-size="19.4" text-anchor="middle" class="cd">90105-T0146(2)</text>
<line x1="561.0" y1="1026.6" x2="601.0" y2="1026.6" stroke-width="2.7" />
<text transform="translate(881.5 1016.9) scale(0.85 1)" x="5.4 17.6 29.8 42.0 54.2 66.4 78.6 90.8 103.0 115.2 127.4 139.7 151.9 164.1" y="0" font-size="19.4" text-anchor="middle" class="cd">90201-T0012(8)</text>
<line x1="1025.5" y1="1011.4" x2="1058.6" y2="1011.4" stroke-width="2.7" />
<text transform="translate(883.6 1036.9) scale(0.85 1)" x="5.4 17.6 29.8 41.9 54.1 66.3 78.5 90.6 102.8 115.0 127.2 139.4 151.5 163.7" y="0" font-size="19.4" text-anchor="middle" class="cd">90179-14069(8)</text>
<text transform="translate(883.6 1057.3) scale(0.85 1)" x="5.4 17.6 29.8 41.9 54.1 66.3 78.5 90.6 102.8 115.0 127.2 139.4 151.5 163.7" y="0" font-size="19.4" text-anchor="middle" class="cd">90178-T0140(8)</text>
<line x1="1026.0" y1="1042.0" x2="1060.0" y2="1042.0" stroke-width="2.7" />
<text transform="translate(899.2 522.5) scale(0.85 1)" x="5.4 17.6 29.9 42.1 54.3 66.6 78.8 91.0 103.3 115.5 127.7 139.9 152.2 164.4" y="0" font-size="19.4" text-anchor="middle" class="cd">90105-T0135(4)</text>
<line x1="861.5" y1="516.4" x2="896.0" y2="516.4" stroke-width="2.7" />
<text transform="translate(1180.3 126.5) scale(0.85 1)" x="5.4 17.7 29.9 42.2 54.5 66.7 79.0 91.3 103.5 115.8 128.1 140.3 152.6 164.9" y="0" font-size="19.4" text-anchor="middle" class="cd">90178-T0027(2)</text>
<polyline points="1148.4,145.2 1158.6,120.3 1179.0,120.3" stroke-width="2.7" fill="none" />
<text transform="translate(1214.4 148.5) scale(0.85 1)" x="5.4 17.5 29.6 41.7 53.9 66.0 78.1 90.2 102.3 114.4 126.5 138.7 150.8 162.9" y="0" font-size="19.4" text-anchor="middle" class="cd">90201-T0014(2)</text>
<polyline points="1186.6,163.0 1195.5,145.7 1209.6,145.7" stroke-width="2.7" fill="none" />
<text transform="translate(1043.2 272.9) scale(0.85 1)" x="5.4 17.6 29.8 42.0 54.2 66.4 78.6 90.8 103.0 115.2 127.4 139.7 151.9 164.1" y="0" font-size="19.4" text-anchor="middle" class="cd">90178-T0027(2)</text>
<polyline points="1167.5,226.8 1099.5,242.0 1099.5,255.5" stroke-width="2.7" fill="none" />
<text transform="translate(1132.5 309.1) scale(0.85 1)" x="5.4 17.6 29.8 42.0 54.3 66.5 78.7 90.9 103.1 115.3 127.5 139.7 152.0 164.2" y="0" font-size="19.4" text-anchor="middle" class="cd">90201-T0014(2)</text>
<polyline points="1207.0,251.5 1188.0,282.4 1188.0,293.5" stroke-width="2.7" fill="none" />
<text transform="translate(376.0 62.5) scale(0.78 1)" x="6.6 21.8 36.9 52.1 67.3 82.5" y="0" font-size="23.7" text-anchor="middle" class="pn">48530C</text>
<line x1="331.0" y1="56.0" x2="368.0" y2="56.0" stroke-width="2.7" />
<text transform="translate(176.5 462.5) scale(0.78 1)" x="6.5 21.6 36.7 51.8 66.8 81.9" y="0" font-size="23.5" text-anchor="middle" class="pn">48530C</text>
<line x1="205.0" y1="416.0" x2="205.0" y2="440.5" stroke-width="2.7" />
<circle cx="303.3" cy="130.2" r="8.4" fill="#000" stroke="none"/>
<text transform="translate(315.0 136.5) scale(0.78 1)" x="6.5 21.5 36.4 51.4 66.3 81.2" y="0" font-size="23.5" text-anchor="middle" class="pn">48530H</text>
<line x1="387.0" y1="130.0" x2="412.0" y2="130.0" stroke-width="2.7" />
<circle cx="516.3" cy="246.0" r="8.4" fill="#000" stroke="none"/>
<text transform="translate(528.0 253.1) scale(0.78 1)" x="6.6 21.3 35.9 50.6 65.2 79.9" y="0" font-size="23.8" text-anchor="middle" class="pn">48530H</text>
<line x1="555.0" y1="208.0" x2="555.0" y2="236.0" stroke-width="2.7" />
<circle cx="295.5" cy="420.8" r="8.4" fill="#000" stroke="none"/>
<text transform="translate(307.0 427.7) scale(0.78 1)" x="6.6 21.5 36.4 51.3 66.2 81.1" y="0" font-size="23.8" text-anchor="middle" class="pn">48530H</text>
<line x1="334.5" y1="435.0" x2="334.5" y2="459.0" stroke-width="2.7" />
<circle cx="495.4" cy="521.4" r="8.4" fill="#000" stroke="none"/>
<text transform="translate(505.8 528.8) scale(0.78 1)" x="6.6 21.2 35.8 50.4 64.9 79.5" y="0" font-size="23.7" text-anchor="middle" class="pn">48530H</text>
<line x1="460.0" y1="522.0" x2="483.0" y2="522.0" stroke-width="2.7" />
<text transform="translate(730.4 272.9) scale(0.78 1)" x="6.5 21.7 36.9 52.1 67.2 82.4" y="0" font-size="23.5" text-anchor="middle" class="pn">48530B</text>
<line x1="704.5" y1="267.5" x2="723.6" y2="267.5" stroke-width="2.7" />
<text transform="translate(663.4 635.5) scale(0.78 1)" x="6.6 21.6 36.5 51.4 66.3 81.3" y="0" font-size="23.8" text-anchor="middle" class="pn">48530B</text>
<line x1="642.0" y1="627.8" x2="661.0" y2="627.8" stroke-width="2.7" />
<text transform="translate(667.0 328.1) scale(0.78 1)" x="6.6 22.1 37.6 53.1 68.6 84.1 99.6 115.1 130.6" y="0" font-size="23.8" text-anchor="middle" class="pn">48530(RH)</text>
<text transform="translate(667.0 351.7) scale(0.78 1)" x="6.6 22.1 37.6 53.1 68.6 84.1 99.6 115.1 130.6" y="0" font-size="23.8" text-anchor="middle" class="pn">48540(LH)</text>
<line x1="649.0" y1="331.5" x2="663.0" y2="331.5" stroke-width="2.7" />
<text transform="translate(202.5 633.9) scale(0.78 1)" x="6.5 21.6 36.7 51.8 66.8 81.9" y="0" font-size="23.5" text-anchor="middle" class="pn">48210B</text>
<line x1="137.6" y1="628.4" x2="178.3" y2="628.4" stroke-width="2.7" />
<text transform="translate(159.0 753.5) scale(0.78 1)" x="6.6 21.9 37.3 52.6 67.9 83.2" y="0" font-size="23.8" text-anchor="middle" class="pn">48210B</text>
<line x1="232.4" y1="747.6" x2="262.4" y2="747.6" stroke-width="2.7" />
<text transform="translate(255.5 806.7) scale(0.78 1)" x="6.6 21.6 36.5 51.4 66.3 81.3" y="0" font-size="23.8" text-anchor="middle" class="pn">48409A</text>
<line x1="329.0" y1="800.4" x2="359.0" y2="800.4" stroke-width="2.7" />
<text transform="translate(768.4 943.9) scale(0.78 1)" x="6.7 22.0 37.2 52.5 67.8 83.0 98.3 113.5 128.8" y="0" font-size="24.1" text-anchor="middle" class="pn">48046(RH)</text>
<text transform="translate(768.4 967.5) scale(0.78 1)" x="6.6 21.9 37.2 52.5 67.7 83.0 98.3 113.6 128.9" y="0" font-size="23.8" text-anchor="middle" class="pn">48047(LH)</text>
<line x1="874.6" y1="949.7" x2="914.0" y2="949.7" stroke-width="2.7" />
<text transform="translate(975.0 452.7) scale(0.78 1)" x="6.6 22.1 37.5 52.9 68.4" y="0" font-size="23.8" text-anchor="middle" class="pn">48341</text>
<line x1="936.7" y1="445.0" x2="971.0" y2="445.0" stroke-width="2.7" />
<text transform="translate(999.0 577.5) scale(0.78 1)" x="6.6 21.9 37.2 52.4 67.7 82.9" y="0" font-size="23.8" text-anchor="middle" class="pn">48046A</text>
<line x1="921.4" y1="570.2" x2="964.7" y2="570.2" stroke-width="2.7" />
<text transform="translate(1064.8 681.5) scale(0.78 1)" x="6.6 21.5 36.3 51.2 66.0 80.9" y="0" font-size="23.8" text-anchor="middle" class="pn">48046A</text>
<line x1="983.8" y1="673.9" x2="1028.4" y2="673.9" stroke-width="2.7" />
<circle cx="1260.8" cy="181.0" r="8.4" fill="#000" stroke="none"/>
<text transform="translate(1272.3 188.5) scale(0.78 1)" x="6.6 21.4 36.2 51.0 65.7 80.5" y="0" font-size="23.8" text-anchor="middle" class="pn">48210A</text>
<line x1="1300.8" y1="194.3" x2="1300.8" y2="222.3" stroke-width="2.7" />
<circle cx="1325.8" cy="216.7" r="8.4" fill="#000" stroke="none"/>
<text transform="translate(1336.7 224.1) scale(0.78 1)" x="6.6 21.2 35.8 50.4 65.0 79.6" y="0" font-size="23.8" text-anchor="middle" class="pn">48210A</text>
<line x1="1362.7" y1="230.4" x2="1362.7" y2="260.5" stroke-width="2.7" />
<circle cx="1245.5" cy="337.0" r="8.4" fill="#000" stroke="none"/>
<text transform="translate(1255.7 344.7) scale(0.78 1)" x="6.6 21.4 36.2 51.0 65.8 80.6" y="0" font-size="23.8" text-anchor="middle" class="pn">48210G</text>
<line x1="1286.3" y1="286.0" x2="1286.3" y2="325.5" stroke-width="2.7" />
<circle cx="1304.0" cy="370.0" r="8.4" fill="#000" stroke="none"/>
<text transform="translate(1315.6 377.7) scale(0.78 1)" x="6.6 21.1 35.6 50.0 64.5 78.9" y="0" font-size="23.8" text-anchor="middle" class="pn">48210G</text>
<line x1="1343.6" y1="326.7" x2="1343.6" y2="360.0" stroke-width="2.7" />
<text transform="translate(1337.7 732.9) scale(0.78 1)" x="6.7 22.1 37.6 53.0 68.4 83.9 99.3 114.7 130.2 145.6" y="0" font-size="24.1" text-anchor="middle" class="pn">04483A(RH)</text>
<text transform="translate(1337.7 755.9) scale(0.78 1)" x="6.7 22.1 37.6 53.0 68.4 83.9 99.3 114.7 130.2 145.6" y="0" font-size="24.1" text-anchor="middle" class="pn">04483B(LH)</text>
<line x1="1369.6" y1="760.4" x2="1369.6" y2="779.5" stroke-width="2.7" />
<text x="738" y="37.5" font-size="19" class="km">※<tspan x="757.2" y="37.0" font-size="17.3" class="sb">1</tspan></text>
<text x="923.6" y="38" font-size="20.5" class="km">※<tspan x="943.8" y="37.6" font-size="19.6" class="sm" textLength="235.7" lengthAdjust="spacingAndGlyphs">2 JAPAN SOURCED PARTS</tspan></text>
<text x="923.6" y="61.6" font-size="20.5" class="km">※<tspan x="943.8" y="61.2" font-size="19.6" class="sm" textLength="235.7" lengthAdjust="spacingAndGlyphs">3 LOCAL SOURCED PARTS</tspan></text>
<circle cx="935.5" cy="87.4" r="8.4" fill="#000" stroke="none"/>
<circle cx="935.5" cy="112.9" r="8.4" fill="#000" stroke="none"/>
<text x="953.5" y="94.6" font-size="18.6" class="jp" textLength="136.3" lengthAdjust="spacing">再使用不可部品</text>
<text x="953.5" y="119.4" font-size="18.2" class="ss" style="font-weight:bold" textLength="149.5" lengthAdjust="spacingAndGlyphs">Non-reusable part</text>
<text x="849" y="1038.5" font-size="17" class="km">※<tspan x="866.5" y="1037.8" font-size="18.3" class="sn" textLength="9.0" lengthAdjust="spacingAndGlyphs">2</tspan></text>
<text x="849" y="1059" font-size="17" class="km">※<tspan x="866.5" y="1058.4" font-size="18.3" class="sn" textLength="9.0" lengthAdjust="spacingAndGlyphs">3</tspan></text>
<text x="970.6" y="578.6" font-size="19.5" class="km">※<tspan x="991.5" y="577.6" font-size="19.1" class="sr" textLength="5.5" lengthAdjust="spacingAndGlyphs">1</tspan></text>
<text x="1031.6" y="682.6" font-size="19.5" class="km">※<tspan x="1051.5" y="681.6" font-size="19.1" class="sr" textLength="5.5" lengthAdjust="spacingAndGlyphs">1</tspan></text>
<text x="15.8" y="567.6" font-size="16.8" class="ss" textLength="35.2" lengthAdjust="spacingAndGlyphs" >SCB</text>
<text x="488.6" y="426.6" font-size="18.7" class="sm" textLength="51.4" lengthAdjust="spacingAndGlyphs" >MARK</text>
<rect x="480.8" y="406" width="67.4" height="28" stroke-width="2.4" fill="none"/>
<polyline points="480.6,416.3 446.0,423.5 480.6,428.0" stroke-width="2.0" fill="none" />
<text x="594.4" y="735.8" font-size="19.7" class="mo" textLength="86.6" lengthAdjust="spacingAndGlyphs" >REFER TO</text>
<text x="594.4" y="758.2" font-size="19.7" class="mo" textLength="105.2" lengthAdjust="spacingAndGlyphs" >ILLUST NO.</text>
<text x="594.4" y="779.8" font-size="19.7" class="mo" textLength="63.6" lengthAdjust="spacingAndGlyphs" >2 OF 2</text>
<line x1="642.0" y1="785.4" x2="642.0" y2="864.3" stroke-width="2.7" />
<text x="1509.0" y="1088.5" font-size="18.9" class="ss" textLength="79.0" lengthAdjust="spacingAndGlyphs" >486003A</text>
<text x="818.6" y="145.6" font-size="19.0" class="ss" textLength="8.9" lengthAdjust="spacingAndGlyphs" >L</text>
</g>
</svg></body></html>
